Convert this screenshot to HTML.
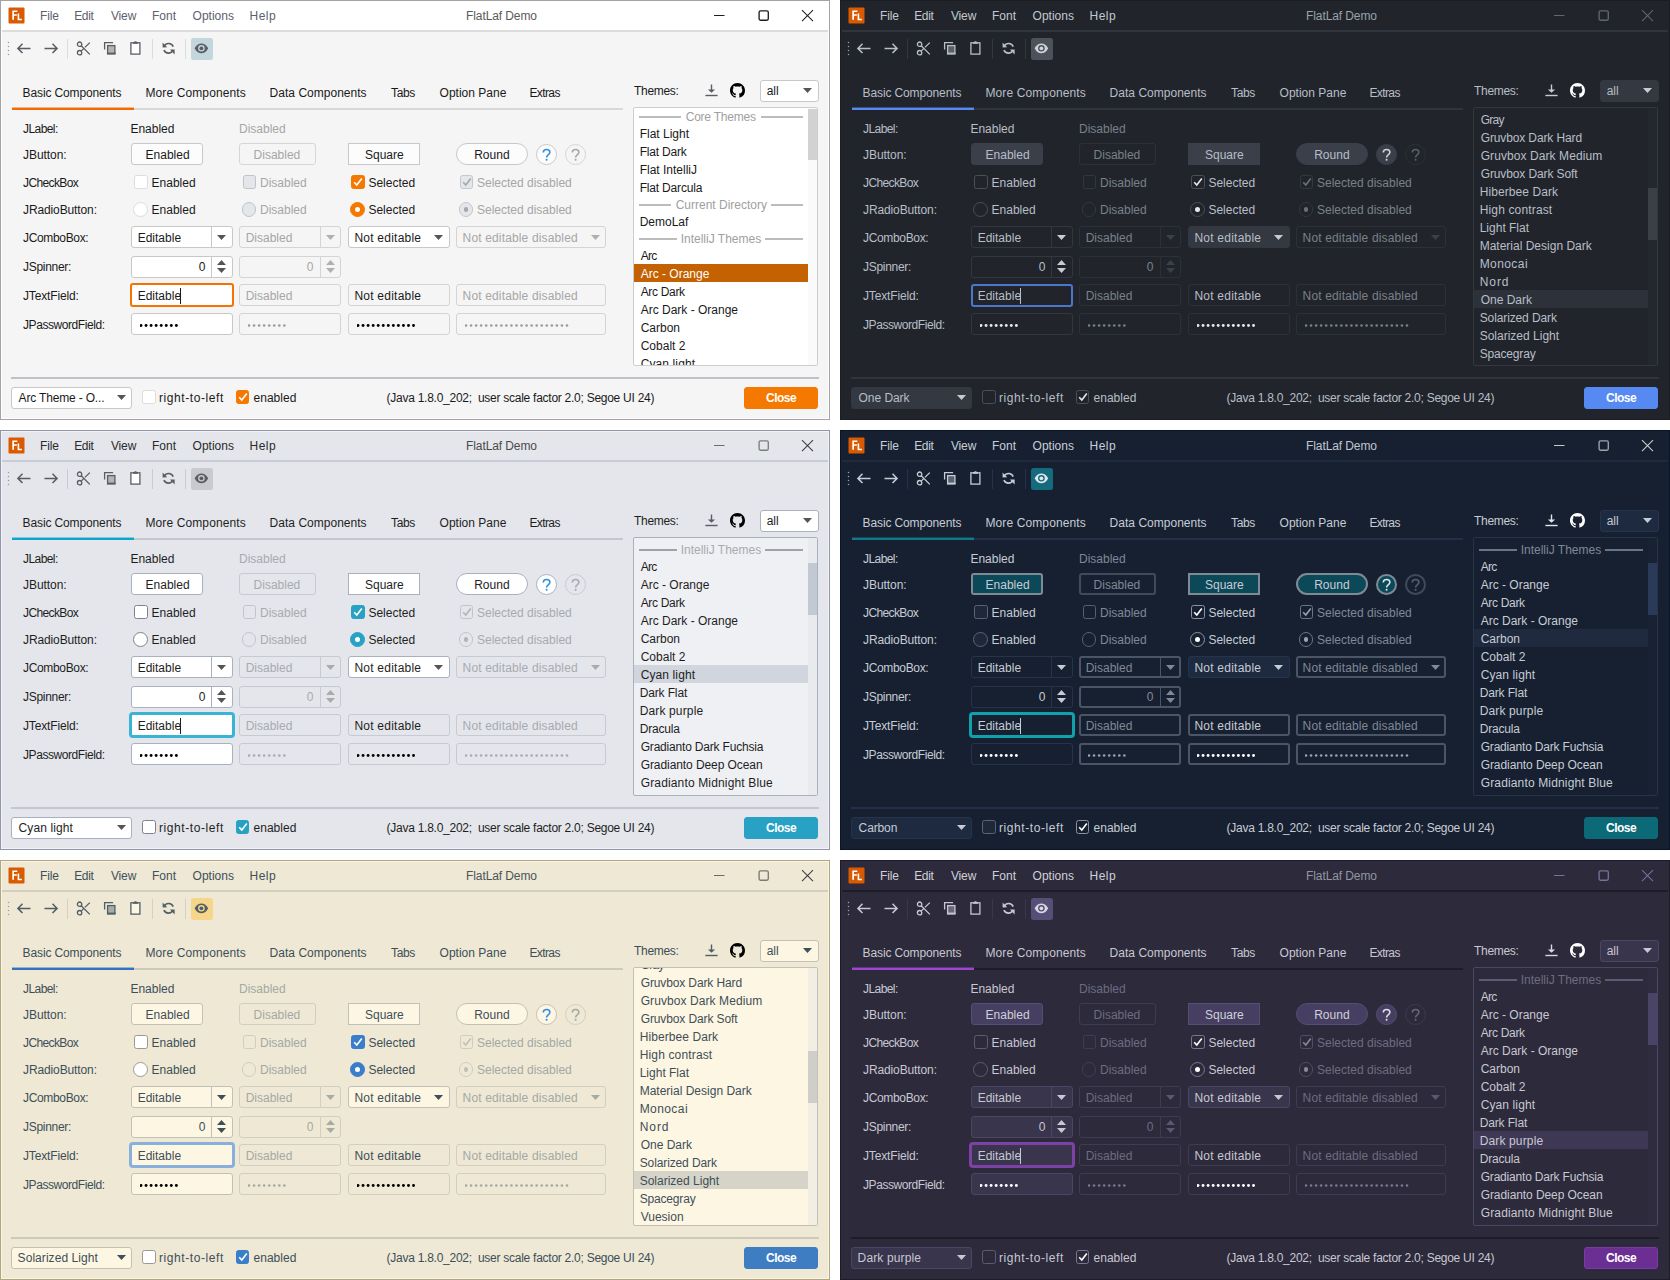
<!DOCTYPE html><html><head><meta charset="utf-8"><style>*{margin:0;padding:0}
html,body{width:1670px;height:1280px;overflow:hidden;background:#fff}
body{position:relative;font-family:"Liberation Sans", sans-serif;font-size:12px;line-height:14px}
.win{position:absolute;width:830px;height:420px;overflow:hidden}
.win div,.win svg{position:absolute}
.t{white-space:pre}
</style></head><body><div class="win" style="left:0px;top:0px;background:#f5f5f5"><div style="left:0px;top:0px;width:830px;height:30px;background:#ffffff;"></div><div style="left:0px;top:30px;width:830px;height:2px;background:#dcdcdc;"></div><svg style="left:8px;top:7px" width="17" height="17" viewBox="0 0 17 17"><rect x="0.5" y="0.5" width="16" height="16" rx="1" fill="#d95a00"/><path d="M4.3 3.4h5v1.6h-3.3v2.3h2.8v1.5h-2.8v3.9h-1.7z" fill="#fff"/><path d="M9.6 6.6h1.6v5.2h2.7v1.5h-4.3z" fill="#fff"/></svg><div class="t" style="left:40.00px;top:9.00px;color:#5c616c;letter-spacing:-0.167px;">File</div><div class="t" style="left:74.20px;top:9.00px;color:#5c616c;letter-spacing:-0.333px;">Edit</div><div class="t" style="left:111.00px;top:9.00px;color:#5c616c;letter-spacing:-0.167px;">View</div><div class="t" style="left:152.00px;top:9.00px;color:#5c616c;">Font</div><div class="t" style="left:192.60px;top:9.00px;color:#5c616c;">Options</div><div class="t" style="left:249.60px;top:9.00px;color:#5c616c;letter-spacing:0.433px;">Help</div><div class="t" style="left:466.00px;top:9.00px;color:#5a5a5a;letter-spacing:-0.091px;">FlatLaf Demo</div><svg style="left:712px;top:8px" width="16" height="16" viewBox="0 0 16 16"><path d="M2 7.5h10.5" stroke="#1e1e1e" stroke-width="1"/></svg><svg style="left:757px;top:9px" width="13" height="13" viewBox="0 0 13 13"><rect x="2.1" y="1.9" width="9.2" height="9.3" rx="1.4" fill="none" stroke="#1e1e1e" stroke-width="1.35"/></svg><svg style="left:801px;top:9px" width="14" height="14" viewBox="0 0 14 14"><path d="M1 1.2L12 12.2M12 1.2L1 12.2" stroke="#1e1e1e" stroke-width="1.05"/></svg><svg style="left:7px;top:41px" width="3" height="16" viewBox="0 0 3 16"><circle cx="1.5" cy="1.5" r="0.75" fill="#9c9c9c"/><circle cx="1.5" cy="5.5" r="0.75" fill="#9c9c9c"/><circle cx="1.5" cy="9.5" r="0.75" fill="#9c9c9c"/><circle cx="1.5" cy="13.5" r="0.75" fill="#9c9c9c"/></svg><svg style="left:16px;top:42px" width="16" height="13" viewBox="0 0 16 13"><path d="M2 6.4h12.5M6.5 1.8L1.9 6.4L6.5 11" fill="none" stroke="#5a5d63" stroke-width="1.5"/></svg><svg style="left:42.5px;top:42px" width="16" height="13" viewBox="0 0 16 13"><path d="M1.5 6.4h12.5M9.5 1.8L14.1 6.4L9.5 11" fill="none" stroke="#5a5d63" stroke-width="1.5"/></svg><div style="left:66.5px;top:39px;width:1px;height:20px;background:#dcdcdc;"></div><div style="left:151.5px;top:39px;width:1px;height:20px;background:#dcdcdc;"></div><div style="left:184.5px;top:39px;width:1px;height:20px;background:#dcdcdc;"></div><svg style="left:76px;top:41px" width="15" height="15" viewBox="0 0 15 15"><circle cx="3.6" cy="3.2" r="2.2" fill="none" stroke="#5a5d63" stroke-width="1.3"/><circle cx="3.6" cy="11.7" r="2.2" fill="none" stroke="#5a5d63" stroke-width="1.3"/><path d="M5.2 4.8L13.8 13.4M5.2 10.1L7.4 7.9M8.9 6.4L13.8 1.6" fill="none" stroke="#5a5d63" stroke-width="1.3"/></svg><svg style="left:102px;top:40px" width="16" height="16" viewBox="0 0 16 16"><path d="M2.6 9.5V2.6h8.5" fill="none" stroke="#5a5d63" stroke-width="1.3"/><rect x="5.6" y="5.6" width="7.3" height="8.4" fill="#b4b4b4" stroke="#5a5d63" stroke-width="1.3"/><path d="M5 13.3h8.6" stroke="#5a5d63" stroke-width="1.4"/></svg><svg style="left:129px;top:40px" width="13" height="16" viewBox="0 0 13 16"><rect x="1.9" y="2.8" width="9" height="11.3" fill="#ffffff" stroke="#5a5d63" stroke-width="1.3"/><path d="M4 2.2h5v1.6h-5z M5.5 1.3h2v1h-2z" fill="#5a5d63"/></svg><svg style="left:161px;top:41px" width="15" height="15" viewBox="0 0 15 15"><path d="M3.2 5.2A5 5 0 0 1 12.2 5.6" fill="none" stroke="#5a5d63" stroke-width="1.6"/><path d="M11.9 9.4A5 5 0 0 1 2.9 9.2" fill="none" stroke="#5a5d63" stroke-width="1.6"/><path d="M1.6 1.6L1.6 6.4L6.2 6.2Z" fill="#5a5d63"/><path d="M13.6 13.4L13.6 8.4L9 8.6Z" fill="#5a5d63"/></svg><div style="left:190.5px;top:37.5px;width:22px;height:22px;background:#c3d6db;border-radius:2.5px;"></div><svg style="left:194px;top:42px" width="15" height="13" viewBox="0 0 15 13"><path d="M0.6 6.3C2.6 2.5 5 1.4 7.4 1.4S12.2 2.5 14.2 6.3C12.2 10.1 9.8 11.3 7.4 11.3S2.6 10.1 0.6 6.3Z" fill="#5a5d63"/><circle cx="7.4" cy="6.3" r="3.3" fill="#c3d6db"/><circle cx="7.4" cy="6.3" r="1.9" fill="#5a5d63"/></svg><div class="t" style="left:22.60px;top:86.40px;color:#1a1a1a;letter-spacing:-0.127px;">Basic Components</div><div class="t" style="left:145.40px;top:86.40px;color:#1a1a1a;letter-spacing:0.121px;">More Components</div><div class="t" style="left:269.60px;top:86.40px;color:#1a1a1a;letter-spacing:0.021px;">Data Components</div><div class="t" style="left:391.00px;top:86.40px;color:#1a1a1a;letter-spacing:-0.367px;">Tabs</div><div class="t" style="left:439.60px;top:86.40px;color:#1a1a1a;">Option Pane</div><div class="t" style="left:529.40px;top:86.40px;color:#1a1a1a;letter-spacing:-0.600px;">Extras</div><div style="left:12px;top:108px;width:611px;height:2px;background:#d8d8d8;"></div><div style="left:12px;top:107px;width:122px;height:1px;background:#f46a00;opacity:0.45;"></div><div style="left:12px;top:108px;width:122px;height:2px;background:#f46a00;"></div><div class="t" style="left:23.00px;top:122.00px;color:#1a1a1a;letter-spacing:-0.567px;">JLabel:</div><div class="t" style="left:23.00px;top:148.20px;color:#1a1a1a;letter-spacing:-0.057px;">JButton:</div><div class="t" style="left:23.00px;top:176.00px;color:#1a1a1a;letter-spacing:-0.625px;">JCheckBox</div><div class="t" style="left:23.00px;top:203.00px;color:#1a1a1a;letter-spacing:-0.117px;">JRadioButton:</div><div class="t" style="left:23.00px;top:231.00px;color:#1a1a1a;letter-spacing:-0.333px;">JComboBox:</div><div class="t" style="left:23.00px;top:259.80px;color:#1a1a1a;letter-spacing:-0.300px;">JSpinner:</div><div class="t" style="left:23.00px;top:288.80px;color:#1a1a1a;letter-spacing:-0.140px;">JTextField:</div><div class="t" style="left:23.00px;top:317.80px;color:#1a1a1a;letter-spacing:-0.429px;">JPasswordField:</div><div class="t" style="left:130.40px;top:122.00px;color:#1a1a1a;">Enabled</div><div class="t" style="left:239.00px;top:122.00px;color:#a6a6a6;">Disabled</div><div style="left:131px;top:143px;width:72px;height:22px;background:#fcfcfc;border:1px solid #c9c9c9;box-sizing:border-box;border-radius:3px;"></div><div class="t" style="left:145.60px;top:148.20px;color:#1a1a1a;">Enabled</div><div style="left:239px;top:143px;width:77px;height:22px;background:#f5f5f5;border:1px solid #d6d6d6;box-sizing:border-box;border-radius:3px;"></div><div class="t" style="left:253.60px;top:148.20px;color:#a6a6a6;">Disabled</div><div style="left:348px;top:143px;width:72px;height:22px;background:#fcfcfc;border:1px solid #c9c9c9;box-sizing:border-box;"></div><div class="t" style="left:365.00px;top:148.20px;color:#1a1a1a;">Square</div><div style="left:456px;top:143px;width:72px;height:22px;background:#fcfcfc;border:1px solid #c9c9c9;box-sizing:border-box;border-radius:11px;"></div><div class="t" style="left:474.20px;top:148.20px;color:#1a1a1a;">Round</div><div style="left:536px;top:144px;width:21px;height:21px;background:#fcfcfc;border:1px solid #c9c9c9;box-sizing:border-box;border-radius:11px;"></div><svg style="left:536px;top:144px" width="21" height="21" viewBox="0 0 21 21"><path d="M7.3 8.4C7.3 6.5 8.7 5.5 10.6 5.5C12.5 5.5 13.9 6.6 13.9 8.3C13.9 9.9 12.7 10.6 11.7 11.3C10.9 11.9 10.6 12.4 10.6 13.6" fill="none" stroke="#2d8ee0" stroke-width="1.55"/><circle cx="10.6" cy="15.8" r="1.05" fill="#2d8ee0"/></svg><div style="left:565px;top:144px;width:21px;height:21px;background:#f5f5f5;border:1px solid #d6d6d6;box-sizing:border-box;border-radius:11px;"></div><svg style="left:565px;top:144px" width="21" height="21" viewBox="0 0 21 21"><path d="M7.3 8.4C7.3 6.5 8.7 5.5 10.6 5.5C12.5 5.5 13.9 6.6 13.9 8.3C13.9 9.9 12.7 10.6 11.7 11.3C10.9 11.9 10.6 12.4 10.6 13.6" fill="none" stroke="#a6a6a6" stroke-width="1.55"/><circle cx="10.6" cy="15.8" r="1.05" fill="#a6a6a6"/></svg><div style="left:134.2px;top:175px;width:13.5px;height:13.5px;background:#ffffff;border:1px solid #dcdcdc;box-sizing:border-box;border-radius:2.5px;"></div><div class="t" style="left:151.60px;top:176.00px;color:#1a1a1a;">Enabled</div><div style="left:242.6px;top:175px;width:13.5px;height:13.5px;background:#e3e6ea;border:1px solid #bfc3c8;box-sizing:border-box;border-radius:2.5px;"></div><div class="t" style="left:260.00px;top:176.00px;color:#a6a6a6;">Disabled</div><div style="left:351px;top:175px;width:13.5px;height:13.5px;background:#f57900;border:1px solid #f57900;box-sizing:border-box;border-radius:2.5px;"></div><svg style="left:351px;top:175px" width="14" height="14" viewBox="0 0 14 14"><path d="M3.2 7.2L5.8 10L10.8 3.4" fill="none" stroke="#ffffff" stroke-width="1.6"/></svg><div class="t" style="left:368.40px;top:176.00px;color:#1a1a1a;">Selected</div><div style="left:459.6px;top:175px;width:13.5px;height:13.5px;background:#e3e6ea;border:1px solid #c4c8cc;box-sizing:border-box;border-radius:2.5px;"></div><svg style="left:459.6px;top:175px" width="14" height="14" viewBox="0 0 14 14"><path d="M3.2 7.2L5.8 10L10.8 3.4" fill="none" stroke="#a6a6a6" stroke-width="1.6"/></svg><div class="t" style="left:477.00px;top:176.00px;color:#a6a6a6;">Selected disabled</div><div style="left:133.2px;top:202px;width:14.5px;height:14.5px;background:#ffffff;border:1px solid #dcdcdc;box-sizing:border-box;border-radius:8px;"></div><div class="t" style="left:151.60px;top:203.00px;color:#1a1a1a;">Enabled</div><div style="left:241.6px;top:202px;width:14.5px;height:14.5px;background:#e3e6ea;border:1px solid #bfc3c8;box-sizing:border-box;border-radius:8px;"></div><div class="t" style="left:260.00px;top:203.00px;color:#a6a6a6;">Disabled</div><div style="left:350.2px;top:202px;width:14.5px;height:14.5px;background:#f57900;border:1px solid #f57900;box-sizing:border-box;border-radius:8px;"></div><div style="left:355.2px;top:207px;width:4.5px;height:4.5px;background:#ffffff;border-radius:3px;"></div><div class="t" style="left:368.40px;top:203.00px;color:#1a1a1a;">Selected</div><div style="left:458.6px;top:202px;width:14.5px;height:14.5px;background:#e3e6ea;border:1px solid #c4c8cc;box-sizing:border-box;border-radius:8px;"></div><div style="left:463.6px;top:207px;width:4.5px;height:4.5px;background:#a6a6a6;border-radius:3px;"></div><div class="t" style="left:477.00px;top:203.00px;color:#a6a6a6;">Selected disabled</div><div style="left:131px;top:226px;width:102px;height:22px;background:#ffffff;border:1px solid #c8c8c8;box-sizing:border-box;border-radius:3px;"></div><div style="left:211px;top:226px;width:1px;height:22px;background:#c8c8c8;"></div><svg style="left:217.4px;top:235.1px" width="9" height="5" viewBox="0 0 9 5"><path d="M0 0L9 0L4.5 5Z" fill="#555555"/></svg><div class="t" style="left:137.70px;top:230.80px;color:#1a1a1a;">Editable</div><div style="left:239px;top:226px;width:102px;height:22px;background:#f5f5f5;border:1px solid #d4d4d4;box-sizing:border-box;border-radius:3px;"></div><div style="left:320px;top:226px;width:1px;height:22px;background:#d4d4d4;"></div><svg style="left:325.8px;top:235.1px" width="9" height="5" viewBox="0 0 9 5"><path d="M0 0L9 0L4.5 5Z" fill="#b0b0b0"/></svg><div class="t" style="left:245.70px;top:230.80px;color:#a6a6a6;">Disabled</div><div style="left:348px;top:226px;width:102px;height:22px;background:#ffffff;border:1px solid #c8c8c8;box-sizing:border-box;border-radius:3px;"></div><svg style="left:434.2px;top:235.1px" width="9" height="5" viewBox="0 0 9 5"><path d="M0 0L9 0L4.5 5Z" fill="#555555"/></svg><div class="t" style="left:354.40px;top:230.80px;color:#1a1a1a;letter-spacing:0.236px;">Not editable</div><div style="left:456px;top:226px;width:150px;height:22px;background:#f5f5f5;border:1px solid #d4d4d4;box-sizing:border-box;border-radius:3px;"></div><svg style="left:591px;top:235.1px" width="9" height="5" viewBox="0 0 9 5"><path d="M0 0L9 0L4.5 5Z" fill="#b0b0b0"/></svg><div class="t" style="left:462.60px;top:230.80px;color:#a6a6a6;letter-spacing:0.150px;">Not editable disabled</div><div style="left:131px;top:256px;width:102px;height:22px;background:#ffffff;border:1px solid #c8c8c8;box-sizing:border-box;border-radius:3px;"></div><div style="left:211px;top:256px;width:1px;height:22px;background:#c8c8c8;"></div><svg style="left:217.4px;top:260.2px" width="9" height="5" viewBox="0 0 9 5"><path d="M0 5L4.5 0L9 5Z" fill="#555555"/></svg><svg style="left:217.4px;top:268.1px" width="9" height="5" viewBox="0 0 9 5"><path d="M0 0L9 0L4.5 5Z" fill="#555555"/></svg><div class="t" style="left:198.80px;top:260.00px;color:#1a1a1a;">0</div><div style="left:239px;top:256px;width:102px;height:22px;background:#f5f5f5;border:1px solid #d4d4d4;box-sizing:border-box;border-radius:3px;"></div><div style="left:320px;top:256px;width:1px;height:22px;background:#d4d4d4;"></div><svg style="left:325.8px;top:260.2px" width="9" height="5" viewBox="0 0 9 5"><path d="M0 5L4.5 0L9 5Z" fill="#b0b0b0"/></svg><svg style="left:325.8px;top:268.1px" width="9" height="5" viewBox="0 0 9 5"><path d="M0 0L9 0L4.5 5Z" fill="#b0b0b0"/></svg><div class="t" style="left:306.80px;top:260.00px;color:#a6a6a6;">0</div><div style="left:130px;top:283px;width:104px;height:24px;background:#ffffff;border-radius:3px;border:2px solid #f57300;box-sizing:border-box;"></div><div class="t" style="left:137.70px;top:288.80px;color:#1a1a1a;">Editable</div><div style="left:180px;top:287.5px;width:1px;height:16px;background:#1a1a1a;"></div><div style="left:239px;top:284px;width:102px;height:22px;background:#f5f5f5;border:1px solid #d4d4d4;box-sizing:border-box;border-radius:3px;"></div><div class="t" style="left:245.70px;top:288.80px;color:#a6a6a6;">Disabled</div><div style="left:348px;top:284px;width:102px;height:22px;background:#f5f5f5;border:1px solid #d4d4d4;box-sizing:border-box;border-radius:3px;"></div><div class="t" style="left:354.40px;top:288.80px;color:#1a1a1a;letter-spacing:0.236px;">Not editable</div><div style="left:456px;top:284px;width:150px;height:22px;background:#f5f5f5;border:1px solid #d4d4d4;box-sizing:border-box;border-radius:3px;"></div><div class="t" style="left:462.60px;top:288.80px;color:#a6a6a6;letter-spacing:0.150px;">Not editable disabled</div><div style="left:131px;top:313px;width:102px;height:22px;background:#ffffff;border:1px solid #c8c8c8;box-sizing:border-box;border-radius:3px;"></div><svg style="left:139.5px;top:322.5px" width="42.8" height="5" viewBox="0 0 42.8 5"><circle cx="1.00" cy="2.5" r="1.45" fill="#000000"/><circle cx="6.05" cy="2.5" r="1.45" fill="#000000"/><circle cx="11.10" cy="2.5" r="1.45" fill="#000000"/><circle cx="16.15" cy="2.5" r="1.45" fill="#000000"/><circle cx="21.20" cy="2.5" r="1.45" fill="#000000"/><circle cx="26.25" cy="2.5" r="1.45" fill="#000000"/><circle cx="31.30" cy="2.5" r="1.45" fill="#000000"/><circle cx="36.35" cy="2.5" r="1.45" fill="#000000"/></svg><div style="left:239px;top:313px;width:102px;height:22px;background:#f5f5f5;border:1px solid #d4d4d4;box-sizing:border-box;border-radius:3px;"></div><svg style="left:247.5px;top:322.5px" width="42.8" height="5" viewBox="0 0 42.8 5"><circle cx="1.00" cy="2.5" r="1.3" fill="#9a9a9a"/><circle cx="6.05" cy="2.5" r="1.3" fill="#9a9a9a"/><circle cx="11.10" cy="2.5" r="1.3" fill="#9a9a9a"/><circle cx="16.15" cy="2.5" r="1.3" fill="#9a9a9a"/><circle cx="21.20" cy="2.5" r="1.3" fill="#9a9a9a"/><circle cx="26.25" cy="2.5" r="1.3" fill="#9a9a9a"/><circle cx="31.30" cy="2.5" r="1.3" fill="#9a9a9a"/><circle cx="36.35" cy="2.5" r="1.3" fill="#9a9a9a"/></svg><div style="left:348px;top:313px;width:102px;height:22px;background:#f5f5f5;border:1px solid #d4d4d4;box-sizing:border-box;border-radius:3px;"></div><svg style="left:356.5px;top:322.5px" width="63.199999999999996" height="5" viewBox="0 0 63.199999999999996 5"><circle cx="1.00" cy="2.5" r="1.45" fill="#000000"/><circle cx="6.05" cy="2.5" r="1.45" fill="#000000"/><circle cx="11.10" cy="2.5" r="1.45" fill="#000000"/><circle cx="16.15" cy="2.5" r="1.45" fill="#000000"/><circle cx="21.20" cy="2.5" r="1.45" fill="#000000"/><circle cx="26.25" cy="2.5" r="1.45" fill="#000000"/><circle cx="31.30" cy="2.5" r="1.45" fill="#000000"/><circle cx="36.35" cy="2.5" r="1.45" fill="#000000"/><circle cx="41.40" cy="2.5" r="1.45" fill="#000000"/><circle cx="46.45" cy="2.5" r="1.45" fill="#000000"/><circle cx="51.50" cy="2.5" r="1.45" fill="#000000"/><circle cx="56.55" cy="2.5" r="1.45" fill="#000000"/></svg><div style="left:456px;top:313px;width:150px;height:22px;background:#f5f5f5;border:1px solid #d4d4d4;box-sizing:border-box;border-radius:3px;"></div><svg style="left:464.6px;top:322.5px" width="109.1" height="5" viewBox="0 0 109.1 5"><circle cx="1.00" cy="2.5" r="1.3" fill="#9a9a9a"/><circle cx="6.05" cy="2.5" r="1.3" fill="#9a9a9a"/><circle cx="11.10" cy="2.5" r="1.3" fill="#9a9a9a"/><circle cx="16.15" cy="2.5" r="1.3" fill="#9a9a9a"/><circle cx="21.20" cy="2.5" r="1.3" fill="#9a9a9a"/><circle cx="26.25" cy="2.5" r="1.3" fill="#9a9a9a"/><circle cx="31.30" cy="2.5" r="1.3" fill="#9a9a9a"/><circle cx="36.35" cy="2.5" r="1.3" fill="#9a9a9a"/><circle cx="41.40" cy="2.5" r="1.3" fill="#9a9a9a"/><circle cx="46.45" cy="2.5" r="1.3" fill="#9a9a9a"/><circle cx="51.50" cy="2.5" r="1.3" fill="#9a9a9a"/><circle cx="56.55" cy="2.5" r="1.3" fill="#9a9a9a"/><circle cx="61.60" cy="2.5" r="1.3" fill="#9a9a9a"/><circle cx="66.65" cy="2.5" r="1.3" fill="#9a9a9a"/><circle cx="71.70" cy="2.5" r="1.3" fill="#9a9a9a"/><circle cx="76.75" cy="2.5" r="1.3" fill="#9a9a9a"/><circle cx="81.80" cy="2.5" r="1.3" fill="#9a9a9a"/><circle cx="86.85" cy="2.5" r="1.3" fill="#9a9a9a"/><circle cx="91.90" cy="2.5" r="1.3" fill="#9a9a9a"/><circle cx="96.95" cy="2.5" r="1.3" fill="#9a9a9a"/><circle cx="102.00" cy="2.5" r="1.3" fill="#9a9a9a"/></svg><div class="t" style="left:634.00px;top:84.00px;color:#1a1a1a;letter-spacing:-0.300px;">Themes:</div><svg style="left:704px;top:83px" width="15" height="15" viewBox="0 0 15 15"><path d="M7.5 1.5V8.5" stroke="#5a5d63" stroke-width="1.4"/><path d="M3.9 6.4H11.1L7.5 9.8Z" fill="#5a5d63"/><path d="M1.4 12.5H13.6" stroke="#5a5d63" stroke-width="1.4"/></svg><svg style="left:730px;top:83px" width="15" height="15" viewBox="0 0 15 15"><path fill="#000000" transform="scale(0.9375)" d="M8 0C3.58 0 0 3.58 0 8c0 3.54 2.29 6.53 5.47 7.59.4.07.55-.17.55-.38 0-.19-.01-.82-.01-1.49-2.01.37-2.53-.49-2.69-.94-.09-.23-.48-.94-.82-1.13-.28-.15-.68-.52-.01-.53.63-.01 1.08.58 1.23.82.72 1.21 1.87.87 2.33.66.07-.52.28-.87.51-1.07-1.78-.2-3.64-.89-3.64-3.95 0-.87.31-1.59.82-2.15-.08-.2-.36-1.02.08-2.12 0 0 .67-.21 2.2.82.64-.18 1.32-.27 2-.27.68 0 1.36.09 2 .27 1.53-1.04 2.2-.82 2.2-.82.44 1.1.16 1.92.08 2.12.51.56.82 1.27.82 2.15 0 3.07-1.87 3.75-3.65 3.95.29.25.54.73.54 1.48 0 1.07-.01 1.93-.01 2.2 0 .21.15.46.55.38A8.013 8.013 0 0016 8c0-4.42-3.58-8-8-8z"/></svg><div style="left:759.5px;top:79.5px;width:59px;height:22px;background:#ffffff;border:1px solid #c8c8c8;box-sizing:border-box;border-radius:3px;"></div><div class="t" style="left:766.70px;top:84.00px;color:#1a1a1a;">all</div><svg style="left:803.2px;top:87.7px" width="9" height="5" viewBox="0 0 9 5"><path d="M0 0L9 0L4.5 5Z" fill="#555555"/></svg><div style="left:633px;top:107px;width:185px;height:259px;background:#ffffff;border:1px solid #cdcdcd;box-sizing:border-box;border-radius:2px;"></div><div style="left:634px;top:108px;width:183px;height:257px;overflow:hidden"><div style="left:5px;top:8px;width:42.200000000000045px;height:2px;background:#bcbcbc"></div><div style="left:126.70000000000005px;top:8px;width:42.299999999999955px;height:2px;background:#bcbcbc"></div><div class="t" style="left:51.70px;top:2.00px;color:#a0a0a0;letter-spacing:-0.220px;">Core Themes</div><div class="t" style="left:5.70px;top:19.00px;color:#1a1a1a;">Flat Light</div><div class="t" style="left:5.70px;top:37.00px;color:#1a1a1a;letter-spacing:-0.188px;">Flat Dark</div><div class="t" style="left:5.70px;top:55.00px;color:#1a1a1a;">Flat IntelliJ</div><div class="t" style="left:5.70px;top:73.00px;color:#1a1a1a;letter-spacing:-0.182px;">Flat Darcula</div><div style="left:5px;top:96px;width:32.200000000000045px;height:2px;background:#bcbcbc"></div><div style="left:136.70000000000005px;top:96px;width:32.299999999999955px;height:2px;background:#bcbcbc"></div><div class="t" style="left:41.70px;top:90.00px;color:#a0a0a0;">Current Directory</div><div class="t" style="left:5.70px;top:107.00px;color:#1a1a1a;">DemoLaf</div><div style="left:5px;top:130px;width:38.200000000000045px;height:2px;background:#bcbcbc"></div><div style="left:130.70000000000005px;top:130px;width:38.299999999999955px;height:2px;background:#bcbcbc"></div><div class="t" style="left:46.70px;top:124.00px;color:#a0a0a0;">IntelliJ Themes</div><div class="t" style="left:6.70px;top:141.00px;color:#1a1a1a;letter-spacing:-0.750px;">Arc</div><div style="left:0px;top:156px;width:173.5px;height:18px;background:#c46100"></div><div class="t" style="left:6.70px;top:159.00px;color:#ffffff;">Arc - Orange</div><div class="t" style="left:6.70px;top:177.00px;color:#1a1a1a;letter-spacing:-0.329px;">Arc Dark</div><div class="t" style="left:6.70px;top:195.00px;color:#1a1a1a;">Arc Dark - Orange</div><div class="t" style="left:6.70px;top:213.00px;color:#1a1a1a;">Carbon</div><div class="t" style="left:6.70px;top:231.00px;color:#1a1a1a;">Cobalt 2</div><div class="t" style="left:6.70px;top:249.00px;color:#1a1a1a;letter-spacing:0.111px;">Cyan light</div><div style="left:173.5px;top:0px;width:9.5px;height:257px;background:#fafafa"></div><div style="left:173.5px;top:0.7000000000000028px;width:9.5px;height:51.3px;background:#d2d2d2"></div></div><div style="left:11px;top:376px;width:808px;height:1px;background:#f5f5f5;"></div><div style="left:11px;top:377px;width:808px;height:2px;background:#bcc2c8;"></div><div style="left:11px;top:387px;width:121px;height:22px;background:#ffffff;border:1px solid #c8c8c8;box-sizing:border-box;border-radius:3px;"></div><div class="t" style="left:18.60px;top:391.40px;color:#1a1a1a;letter-spacing:-0.173px;">Arc Theme - O...</div><svg style="left:117px;top:395.1px" width="9" height="5" viewBox="0 0 9 5"><path d="M0 0L9 0L4.5 5Z" fill="#555555"/></svg><div style="left:142.4px;top:390px;width:13.5px;height:13.5px;background:#ffffff;border:1px solid #dcdcdc;box-sizing:border-box;border-radius:2.5px;"></div><div class="t" style="left:159.00px;top:391.40px;color:#1a1a1a;letter-spacing:0.583px;">right-to-left</div><div style="left:235.6px;top:390px;width:13.5px;height:13.5px;background:#f57900;border:1px solid #f57900;box-sizing:border-box;border-radius:2.5px;"></div><svg style="left:235.6px;top:390px" width="14" height="14" viewBox="0 0 14 14"><path d="M3.2 7.2L5.8 10L10.8 3.4" fill="none" stroke="#ffffff" stroke-width="1.6"/></svg><div class="t" style="left:253.60px;top:391.40px;color:#1a1a1a;">enabled</div><div class="t" style="left:386.60px;top:391.40px;color:#1a1a1a;letter-spacing:-0.262px;">(Java 1.8.0_202;  user scale factor 2.0; Segoe UI 24)</div><div style="left:743.8px;top:386.7px;width:74.5px;height:22px;background:#f57900;border-radius:3px;border:1px solid #f57900;box-sizing:border-box;"></div><div class="t" style="left:766.00px;top:391.40px;color:#ffffff;letter-spacing:-0.500px;font-weight:bold;">Close</div><div style="left:1px;top:1px;width:828px;height:418px;border:1px solid #ffffff;box-sizing:border-box;"></div><div style="left:0px;top:0px;width:830px;height:420px;border:1px solid #a3a3a3;box-sizing:border-box;"></div></div><div class="win" style="left:840px;top:0px;background:#21252b"><div style="left:0px;top:0px;width:830px;height:30px;background:#21252b;"></div><div style="left:0px;top:30px;width:830px;height:2px;background:#30353d;"></div><svg style="left:8px;top:7px" width="17" height="17" viewBox="0 0 17 17"><rect x="0.5" y="0.5" width="16" height="16" rx="1" fill="#d95a00"/><path d="M4.3 3.4h5v1.6h-3.3v2.3h2.8v1.5h-2.8v3.9h-1.7z" fill="#fff"/><path d="M9.6 6.6h1.6v5.2h2.7v1.5h-4.3z" fill="#fff"/></svg><div class="t" style="left:40.00px;top:9.00px;color:#c3c8d0;letter-spacing:-0.167px;">File</div><div class="t" style="left:74.20px;top:9.00px;color:#c3c8d0;letter-spacing:-0.333px;">Edit</div><div class="t" style="left:111.00px;top:9.00px;color:#c3c8d0;letter-spacing:-0.167px;">View</div><div class="t" style="left:152.00px;top:9.00px;color:#c3c8d0;">Font</div><div class="t" style="left:192.60px;top:9.00px;color:#c3c8d0;">Options</div><div class="t" style="left:249.60px;top:9.00px;color:#c3c8d0;letter-spacing:0.433px;">Help</div><div class="t" style="left:466.00px;top:9.00px;color:#9ca1aa;letter-spacing:-0.091px;">FlatLaf Demo</div><svg style="left:712px;top:8px" width="16" height="16" viewBox="0 0 16 16"><path d="M2 7.5h10.5" stroke="#62666f" stroke-width="1"/></svg><svg style="left:757px;top:9px" width="13" height="13" viewBox="0 0 13 13"><rect x="2.1" y="1.9" width="9.2" height="9.3" rx="1.4" fill="none" stroke="#62666f" stroke-width="1.35"/></svg><svg style="left:801px;top:9px" width="14" height="14" viewBox="0 0 14 14"><path d="M1 1.2L12 12.2M12 1.2L1 12.2" stroke="#62666f" stroke-width="1.05"/></svg><svg style="left:7px;top:41px" width="3" height="16" viewBox="0 0 3 16"><circle cx="1.5" cy="1.5" r="0.75" fill="#9aa0aa"/><circle cx="1.5" cy="5.5" r="0.75" fill="#9aa0aa"/><circle cx="1.5" cy="9.5" r="0.75" fill="#9aa0aa"/><circle cx="1.5" cy="13.5" r="0.75" fill="#9aa0aa"/></svg><svg style="left:16px;top:42px" width="16" height="13" viewBox="0 0 16 13"><path d="M2 6.4h12.5M6.5 1.8L1.9 6.4L6.5 11" fill="none" stroke="#b8bec8" stroke-width="1.5"/></svg><svg style="left:42.5px;top:42px" width="16" height="13" viewBox="0 0 16 13"><path d="M1.5 6.4h12.5M9.5 1.8L14.1 6.4L9.5 11" fill="none" stroke="#b8bec8" stroke-width="1.5"/></svg><div style="left:66.5px;top:39px;width:1px;height:20px;background:#33383f;"></div><div style="left:151.5px;top:39px;width:1px;height:20px;background:#33383f;"></div><div style="left:184.5px;top:39px;width:1px;height:20px;background:#33383f;"></div><svg style="left:76px;top:41px" width="15" height="15" viewBox="0 0 15 15"><circle cx="3.6" cy="3.2" r="2.2" fill="none" stroke="#b8bec8" stroke-width="1.3"/><circle cx="3.6" cy="11.7" r="2.2" fill="none" stroke="#b8bec8" stroke-width="1.3"/><path d="M5.2 4.8L13.8 13.4M5.2 10.1L7.4 7.9M8.9 6.4L13.8 1.6" fill="none" stroke="#b8bec8" stroke-width="1.3"/></svg><svg style="left:102px;top:40px" width="16" height="16" viewBox="0 0 16 16"><path d="M2.6 9.5V2.6h8.5" fill="none" stroke="#b8bec8" stroke-width="1.3"/><rect x="5.6" y="5.6" width="7.3" height="8.4" fill="#5a5f68" stroke="#b8bec8" stroke-width="1.3"/><path d="M5 13.3h8.6" stroke="#b8bec8" stroke-width="1.4"/></svg><svg style="left:129px;top:40px" width="13" height="16" viewBox="0 0 13 16"><rect x="1.9" y="2.8" width="9" height="11.3" fill="#21252b" stroke="#b8bec8" stroke-width="1.3"/><path d="M4 2.2h5v1.6h-5z M5.5 1.3h2v1h-2z" fill="#b8bec8"/></svg><svg style="left:161px;top:41px" width="15" height="15" viewBox="0 0 15 15"><path d="M3.2 5.2A5 5 0 0 1 12.2 5.6" fill="none" stroke="#b8bec8" stroke-width="1.6"/><path d="M11.9 9.4A5 5 0 0 1 2.9 9.2" fill="none" stroke="#b8bec8" stroke-width="1.6"/><path d="M1.6 1.6L1.6 6.4L6.2 6.2Z" fill="#b8bec8"/><path d="M13.6 13.4L13.6 8.4L9 8.6Z" fill="#b8bec8"/></svg><div style="left:190.5px;top:37.5px;width:22px;height:22px;background:#4c525c;border-radius:2.5px;"></div><svg style="left:194px;top:42px" width="15" height="13" viewBox="0 0 15 13"><path d="M0.6 6.3C2.6 2.5 5 1.4 7.4 1.4S12.2 2.5 14.2 6.3C12.2 10.1 9.8 11.3 7.4 11.3S2.6 10.1 0.6 6.3Z" fill="#d0d3d8"/><circle cx="7.4" cy="6.3" r="3.3" fill="#4c525c"/><circle cx="7.4" cy="6.3" r="1.9" fill="#d0d3d8"/></svg><div class="t" style="left:22.60px;top:86.40px;color:#b8bec8;letter-spacing:-0.127px;">Basic Components</div><div class="t" style="left:145.40px;top:86.40px;color:#b8bec8;letter-spacing:0.121px;">More Components</div><div class="t" style="left:269.60px;top:86.40px;color:#b8bec8;letter-spacing:0.021px;">Data Components</div><div class="t" style="left:391.00px;top:86.40px;color:#b8bec8;letter-spacing:-0.367px;">Tabs</div><div class="t" style="left:439.60px;top:86.40px;color:#b8bec8;">Option Pane</div><div class="t" style="left:529.40px;top:86.40px;color:#b8bec8;letter-spacing:-0.600px;">Extras</div><div style="left:12px;top:108px;width:611px;height:2px;background:#30353d;"></div><div style="left:12px;top:107px;width:122px;height:1px;background:#568af2;opacity:0.45;"></div><div style="left:12px;top:108px;width:122px;height:2px;background:#568af2;"></div><div class="t" style="left:23.00px;top:122.00px;color:#b8bec8;letter-spacing:-0.567px;">JLabel:</div><div class="t" style="left:23.00px;top:148.20px;color:#b8bec8;letter-spacing:-0.057px;">JButton:</div><div class="t" style="left:23.00px;top:176.00px;color:#b8bec8;letter-spacing:-0.625px;">JCheckBox</div><div class="t" style="left:23.00px;top:203.00px;color:#b8bec8;letter-spacing:-0.117px;">JRadioButton:</div><div class="t" style="left:23.00px;top:231.00px;color:#b8bec8;letter-spacing:-0.333px;">JComboBox:</div><div class="t" style="left:23.00px;top:259.80px;color:#b8bec8;letter-spacing:-0.300px;">JSpinner:</div><div class="t" style="left:23.00px;top:288.80px;color:#b8bec8;letter-spacing:-0.140px;">JTextField:</div><div class="t" style="left:23.00px;top:317.80px;color:#b8bec8;letter-spacing:-0.429px;">JPasswordField:</div><div class="t" style="left:130.40px;top:122.00px;color:#b8bec8;">Enabled</div><div class="t" style="left:239.00px;top:122.00px;color:#7a808a;">Disabled</div><div style="left:131px;top:143px;width:72px;height:22px;background:#3a3f4a;border:1px solid #3a3f4a;box-sizing:border-box;border-radius:3px;"></div><div class="t" style="left:145.60px;top:148.20px;color:#b8bec8;">Enabled</div><div style="left:239px;top:143px;width:77px;height:22px;background:#21252b;border:1px solid #2c3038;box-sizing:border-box;border-radius:3px;"></div><div class="t" style="left:253.60px;top:148.20px;color:#7a808a;">Disabled</div><div style="left:348px;top:143px;width:72px;height:22px;background:#3a3f4a;border:1px solid #3a3f4a;box-sizing:border-box;"></div><div class="t" style="left:365.00px;top:148.20px;color:#b8bec8;">Square</div><div style="left:456px;top:143px;width:72px;height:22px;background:#3a3f4a;border:1px solid #3a3f4a;box-sizing:border-box;border-radius:11px;"></div><div class="t" style="left:474.20px;top:148.20px;color:#b8bec8;">Round</div><div style="left:536px;top:144px;width:21px;height:21px;background:#3a3f4a;border:1px solid #3a3f4a;box-sizing:border-box;border-radius:11px;"></div><svg style="left:536px;top:144px" width="21" height="21" viewBox="0 0 21 21"><path d="M7.3 8.4C7.3 6.5 8.7 5.5 10.6 5.5C12.5 5.5 13.9 6.6 13.9 8.3C13.9 9.9 12.7 10.6 11.7 11.3C10.9 11.9 10.6 12.4 10.6 13.6" fill="none" stroke="#d0d4da" stroke-width="1.55"/><circle cx="10.6" cy="15.8" r="1.05" fill="#d0d4da"/></svg><div style="left:565px;top:144px;width:21px;height:21px;background:#21252b;border:1px solid #2c3038;box-sizing:border-box;border-radius:11px;"></div><svg style="left:565px;top:144px" width="21" height="21" viewBox="0 0 21 21"><path d="M7.3 8.4C7.3 6.5 8.7 5.5 10.6 5.5C12.5 5.5 13.9 6.6 13.9 8.3C13.9 9.9 12.7 10.6 11.7 11.3C10.9 11.9 10.6 12.4 10.6 13.6" fill="none" stroke="#5a5f68" stroke-width="1.55"/><circle cx="10.6" cy="15.8" r="1.05" fill="#5a5f68"/></svg><div style="left:134.2px;top:175px;width:13.5px;height:13.5px;background:#21252b;border:1px solid #4a4f58;box-sizing:border-box;border-radius:2.5px;"></div><div class="t" style="left:151.60px;top:176.00px;color:#b8bec8;">Enabled</div><div style="left:242.6px;top:175px;width:13.5px;height:13.5px;background:#21252b;border:1px solid #33373e;box-sizing:border-box;border-radius:2.5px;"></div><div class="t" style="left:260.00px;top:176.00px;color:#7a808a;">Disabled</div><div style="left:351px;top:175px;width:13.5px;height:13.5px;background:#21252b;border:1px solid #4a4f58;box-sizing:border-box;border-radius:2.5px;"></div><svg style="left:351px;top:175px" width="14" height="14" viewBox="0 0 14 14"><path d="M3.2 7.2L5.8 10L10.8 3.4" fill="none" stroke="#e6e8ec" stroke-width="1.6"/></svg><div class="t" style="left:368.40px;top:176.00px;color:#b8bec8;">Selected</div><div style="left:459.6px;top:175px;width:13.5px;height:13.5px;background:#21252b;border:1px solid #33373e;box-sizing:border-box;border-radius:2.5px;"></div><svg style="left:459.6px;top:175px" width="14" height="14" viewBox="0 0 14 14"><path d="M3.2 7.2L5.8 10L10.8 3.4" fill="none" stroke="#6a6f78" stroke-width="1.6"/></svg><div class="t" style="left:477.00px;top:176.00px;color:#7a808a;">Selected disabled</div><div style="left:133.2px;top:202px;width:14.5px;height:14.5px;background:#21252b;border:1px solid #4a4f58;box-sizing:border-box;border-radius:8px;"></div><div class="t" style="left:151.60px;top:203.00px;color:#b8bec8;">Enabled</div><div style="left:241.6px;top:202px;width:14.5px;height:14.5px;background:#21252b;border:1px solid #33373e;box-sizing:border-box;border-radius:8px;"></div><div class="t" style="left:260.00px;top:203.00px;color:#7a808a;">Disabled</div><div style="left:350.2px;top:202px;width:14.5px;height:14.5px;background:#21252b;border:1px solid #4a4f58;box-sizing:border-box;border-radius:8px;"></div><div style="left:355.2px;top:207px;width:4.5px;height:4.5px;background:#e6e8ec;border-radius:3px;"></div><div class="t" style="left:368.40px;top:203.00px;color:#b8bec8;">Selected</div><div style="left:458.6px;top:202px;width:14.5px;height:14.5px;background:#21252b;border:1px solid #33373e;box-sizing:border-box;border-radius:8px;"></div><div style="left:463.6px;top:207px;width:4.5px;height:4.5px;background:#6a6f78;border-radius:3px;"></div><div class="t" style="left:477.00px;top:203.00px;color:#7a808a;">Selected disabled</div><div style="left:131px;top:226px;width:102px;height:22px;background:#21252b;border:1px solid #33373f;box-sizing:border-box;border-radius:3px;"></div><div style="left:211px;top:226px;width:1px;height:22px;background:#33373f;"></div><svg style="left:217.4px;top:235.1px" width="9" height="5" viewBox="0 0 9 5"><path d="M0 0L9 0L4.5 5Z" fill="#c8ccd2"/></svg><div class="t" style="left:137.70px;top:230.80px;color:#b8bec8;">Editable</div><div style="left:239px;top:226px;width:102px;height:22px;background:#21252b;border:1px solid #2c3038;box-sizing:border-box;border-radius:3px;"></div><div style="left:320px;top:226px;width:1px;height:22px;background:#2c3038;"></div><svg style="left:325.8px;top:235.1px" width="9" height="5" viewBox="0 0 9 5"><path d="M0 0L9 0L4.5 5Z" fill="#3c4048"/></svg><div class="t" style="left:245.70px;top:230.80px;color:#7a808a;">Disabled</div><div style="left:348px;top:226px;width:102px;height:22px;background:#333841;border:1px solid #33373f;box-sizing:border-box;border-radius:3px;"></div><svg style="left:434.2px;top:235.1px" width="9" height="5" viewBox="0 0 9 5"><path d="M0 0L9 0L4.5 5Z" fill="#c8ccd2"/></svg><div class="t" style="left:354.40px;top:230.80px;color:#b8bec8;letter-spacing:0.236px;">Not editable</div><div style="left:456px;top:226px;width:150px;height:22px;background:#21252b;border:1px solid #2c3038;box-sizing:border-box;border-radius:3px;"></div><svg style="left:591px;top:235.1px" width="9" height="5" viewBox="0 0 9 5"><path d="M0 0L9 0L4.5 5Z" fill="#3c4048"/></svg><div class="t" style="left:462.60px;top:230.80px;color:#7a808a;letter-spacing:0.150px;">Not editable disabled</div><div style="left:131px;top:256px;width:102px;height:22px;background:#21252b;border:1px solid #33373f;box-sizing:border-box;border-radius:3px;"></div><div style="left:211px;top:256px;width:1px;height:22px;background:#33373f;"></div><svg style="left:217.4px;top:260.2px" width="9" height="5" viewBox="0 0 9 5"><path d="M0 5L4.5 0L9 5Z" fill="#c8ccd2"/></svg><svg style="left:217.4px;top:268.1px" width="9" height="5" viewBox="0 0 9 5"><path d="M0 0L9 0L4.5 5Z" fill="#c8ccd2"/></svg><div class="t" style="left:198.80px;top:260.00px;color:#b8bec8;">0</div><div style="left:239px;top:256px;width:102px;height:22px;background:#21252b;border:1px solid #2c3038;box-sizing:border-box;border-radius:3px;"></div><div style="left:320px;top:256px;width:1px;height:22px;background:#2c3038;"></div><svg style="left:325.8px;top:260.2px" width="9" height="5" viewBox="0 0 9 5"><path d="M0 5L4.5 0L9 5Z" fill="#3c4048"/></svg><svg style="left:325.8px;top:268.1px" width="9" height="5" viewBox="0 0 9 5"><path d="M0 0L9 0L4.5 5Z" fill="#3c4048"/></svg><div class="t" style="left:306.80px;top:260.00px;color:#7a808a;">0</div><div style="left:131px;top:284px;width:102px;height:23px;background:#21252b;border-radius:3px;border:2px solid #4a76cc;box-sizing:border-box;"></div><div class="t" style="left:137.70px;top:288.80px;color:#b8bec8;">Editable</div><div style="left:180px;top:287.5px;width:1px;height:16px;background:#b8bec8;"></div><div style="left:239px;top:284px;width:102px;height:22px;background:#21252b;border:1px solid #2c3038;box-sizing:border-box;border-radius:3px;"></div><div class="t" style="left:245.70px;top:288.80px;color:#7a808a;">Disabled</div><div style="left:348px;top:284px;width:102px;height:22px;background:#21252b;border:1px solid #2c3038;box-sizing:border-box;border-radius:3px;"></div><div class="t" style="left:354.40px;top:288.80px;color:#b8bec8;letter-spacing:0.236px;">Not editable</div><div style="left:456px;top:284px;width:150px;height:22px;background:#21252b;border:1px solid #2c3038;box-sizing:border-box;border-radius:3px;"></div><div class="t" style="left:462.60px;top:288.80px;color:#7a808a;letter-spacing:0.150px;">Not editable disabled</div><div style="left:131px;top:313px;width:102px;height:22px;background:#21252b;border:1px solid #33373f;box-sizing:border-box;border-radius:3px;"></div><svg style="left:139.5px;top:322.5px" width="42.8" height="5" viewBox="0 0 42.8 5"><circle cx="1.00" cy="2.5" r="1.45" fill="#e6e8ec"/><circle cx="6.05" cy="2.5" r="1.45" fill="#e6e8ec"/><circle cx="11.10" cy="2.5" r="1.45" fill="#e6e8ec"/><circle cx="16.15" cy="2.5" r="1.45" fill="#e6e8ec"/><circle cx="21.20" cy="2.5" r="1.45" fill="#e6e8ec"/><circle cx="26.25" cy="2.5" r="1.45" fill="#e6e8ec"/><circle cx="31.30" cy="2.5" r="1.45" fill="#e6e8ec"/><circle cx="36.35" cy="2.5" r="1.45" fill="#e6e8ec"/></svg><div style="left:239px;top:313px;width:102px;height:22px;background:#21252b;border:1px solid #2c3038;box-sizing:border-box;border-radius:3px;"></div><svg style="left:247.5px;top:322.5px" width="42.8" height="5" viewBox="0 0 42.8 5"><circle cx="1.00" cy="2.5" r="1.3" fill="#7a808a"/><circle cx="6.05" cy="2.5" r="1.3" fill="#7a808a"/><circle cx="11.10" cy="2.5" r="1.3" fill="#7a808a"/><circle cx="16.15" cy="2.5" r="1.3" fill="#7a808a"/><circle cx="21.20" cy="2.5" r="1.3" fill="#7a808a"/><circle cx="26.25" cy="2.5" r="1.3" fill="#7a808a"/><circle cx="31.30" cy="2.5" r="1.3" fill="#7a808a"/><circle cx="36.35" cy="2.5" r="1.3" fill="#7a808a"/></svg><div style="left:348px;top:313px;width:102px;height:22px;background:#21252b;border:1px solid #2c3038;box-sizing:border-box;border-radius:3px;"></div><svg style="left:356.5px;top:322.5px" width="63.199999999999996" height="5" viewBox="0 0 63.199999999999996 5"><circle cx="1.00" cy="2.5" r="1.45" fill="#e6e8ec"/><circle cx="6.05" cy="2.5" r="1.45" fill="#e6e8ec"/><circle cx="11.10" cy="2.5" r="1.45" fill="#e6e8ec"/><circle cx="16.15" cy="2.5" r="1.45" fill="#e6e8ec"/><circle cx="21.20" cy="2.5" r="1.45" fill="#e6e8ec"/><circle cx="26.25" cy="2.5" r="1.45" fill="#e6e8ec"/><circle cx="31.30" cy="2.5" r="1.45" fill="#e6e8ec"/><circle cx="36.35" cy="2.5" r="1.45" fill="#e6e8ec"/><circle cx="41.40" cy="2.5" r="1.45" fill="#e6e8ec"/><circle cx="46.45" cy="2.5" r="1.45" fill="#e6e8ec"/><circle cx="51.50" cy="2.5" r="1.45" fill="#e6e8ec"/><circle cx="56.55" cy="2.5" r="1.45" fill="#e6e8ec"/></svg><div style="left:456px;top:313px;width:150px;height:22px;background:#21252b;border:1px solid #2c3038;box-sizing:border-box;border-radius:3px;"></div><svg style="left:464.6px;top:322.5px" width="109.1" height="5" viewBox="0 0 109.1 5"><circle cx="1.00" cy="2.5" r="1.3" fill="#7a808a"/><circle cx="6.05" cy="2.5" r="1.3" fill="#7a808a"/><circle cx="11.10" cy="2.5" r="1.3" fill="#7a808a"/><circle cx="16.15" cy="2.5" r="1.3" fill="#7a808a"/><circle cx="21.20" cy="2.5" r="1.3" fill="#7a808a"/><circle cx="26.25" cy="2.5" r="1.3" fill="#7a808a"/><circle cx="31.30" cy="2.5" r="1.3" fill="#7a808a"/><circle cx="36.35" cy="2.5" r="1.3" fill="#7a808a"/><circle cx="41.40" cy="2.5" r="1.3" fill="#7a808a"/><circle cx="46.45" cy="2.5" r="1.3" fill="#7a808a"/><circle cx="51.50" cy="2.5" r="1.3" fill="#7a808a"/><circle cx="56.55" cy="2.5" r="1.3" fill="#7a808a"/><circle cx="61.60" cy="2.5" r="1.3" fill="#7a808a"/><circle cx="66.65" cy="2.5" r="1.3" fill="#7a808a"/><circle cx="71.70" cy="2.5" r="1.3" fill="#7a808a"/><circle cx="76.75" cy="2.5" r="1.3" fill="#7a808a"/><circle cx="81.80" cy="2.5" r="1.3" fill="#7a808a"/><circle cx="86.85" cy="2.5" r="1.3" fill="#7a808a"/><circle cx="91.90" cy="2.5" r="1.3" fill="#7a808a"/><circle cx="96.95" cy="2.5" r="1.3" fill="#7a808a"/><circle cx="102.00" cy="2.5" r="1.3" fill="#7a808a"/></svg><div class="t" style="left:634.00px;top:84.00px;color:#b8bec8;letter-spacing:-0.300px;">Themes:</div><svg style="left:704px;top:83px" width="15" height="15" viewBox="0 0 15 15"><path d="M7.5 1.5V8.5" stroke="#c8ccd2" stroke-width="1.4"/><path d="M3.9 6.4H11.1L7.5 9.8Z" fill="#c8ccd2"/><path d="M1.4 12.5H13.6" stroke="#c8ccd2" stroke-width="1.4"/></svg><svg style="left:730px;top:83px" width="15" height="15" viewBox="0 0 15 15"><path fill="#ffffff" transform="scale(0.9375)" d="M8 0C3.58 0 0 3.58 0 8c0 3.54 2.29 6.53 5.47 7.59.4.07.55-.17.55-.38 0-.19-.01-.82-.01-1.49-2.01.37-2.53-.49-2.69-.94-.09-.23-.48-.94-.82-1.13-.28-.15-.68-.52-.01-.53.63-.01 1.08.58 1.23.82.72 1.21 1.87.87 2.33.66.07-.52.28-.87.51-1.07-1.78-.2-3.64-.89-3.64-3.95 0-.87.31-1.59.82-2.15-.08-.2-.36-1.02.08-2.12 0 0 .67-.21 2.2.82.64-.18 1.32-.27 2-.27.68 0 1.36.09 2 .27 1.53-1.04 2.2-.82 2.2-.82.44 1.1.16 1.92.08 2.12.51.56.82 1.27.82 2.15 0 3.07-1.87 3.75-3.65 3.95.29.25.54.73.54 1.48 0 1.07-.01 1.93-.01 2.2 0 .21.15.46.55.38A8.013 8.013 0 0016 8c0-4.42-3.58-8-8-8z"/></svg><div style="left:759.5px;top:79.5px;width:59px;height:22px;background:#333841;border:1px solid #33373f;box-sizing:border-box;border-radius:3px;"></div><div class="t" style="left:766.70px;top:84.00px;color:#b8bec8;">all</div><svg style="left:803.2px;top:87.7px" width="9" height="5" viewBox="0 0 9 5"><path d="M0 0L9 0L4.5 5Z" fill="#c8ccd2"/></svg><div style="left:633px;top:107px;width:185px;height:259px;background:#21252b;border:1px solid #33373f;box-sizing:border-box;border-radius:2px;"></div><div style="left:634px;top:108px;width:183px;height:257px;overflow:hidden"><div class="t" style="left:6.70px;top:-13.00px;color:#b8bec8;">Gradianto Nature Green</div><div class="t" style="left:6.70px;top:5.00px;color:#b8bec8;letter-spacing:-0.767px;">Gray</div><div class="t" style="left:6.70px;top:23.00px;color:#b8bec8;letter-spacing:-0.125px;">Gruvbox Dark Hard</div><div class="t" style="left:6.70px;top:41.00px;color:#b8bec8;letter-spacing:0.083px;">Gruvbox Dark Medium</div><div class="t" style="left:6.70px;top:59.00px;color:#b8bec8;letter-spacing:-0.119px;">Gruvbox Dark Soft</div><div class="t" style="left:5.70px;top:77.00px;color:#b8bec8;letter-spacing:0.075px;">Hiberbee Dark</div><div class="t" style="left:5.70px;top:95.00px;color:#b8bec8;letter-spacing:0.150px;">High contrast</div><div class="t" style="left:5.70px;top:113.00px;color:#b8bec8;">Light Flat</div><div class="t" style="left:5.70px;top:131.00px;color:#b8bec8;">Material Design Dark</div><div class="t" style="left:5.70px;top:149.00px;color:#b8bec8;letter-spacing:0.417px;">Monocai</div><div class="t" style="left:5.70px;top:167.00px;color:#b8bec8;letter-spacing:0.933px;">Nord</div><div style="left:0px;top:182px;width:173.5px;height:18px;background:#2c313a"></div><div class="t" style="left:6.70px;top:185.00px;color:#b8bec8;">One Dark</div><div class="t" style="left:5.70px;top:203.00px;color:#b8bec8;letter-spacing:-0.115px;">Solarized Dark</div><div class="t" style="left:5.70px;top:221.00px;color:#b8bec8;">Solarized Light</div><div class="t" style="left:5.70px;top:239.00px;color:#b8bec8;letter-spacing:-0.175px;">Spacegray</div><div class="t" style="left:6.70px;top:257.00px;color:#b8bec8;">Vuesion</div><div style="left:173.5px;top:0px;width:9.5px;height:257px;background:#23272e"></div><div style="left:173.5px;top:80.4px;width:9.5px;height:51.19999999999999px;background:#3a3f48"></div></div><div style="left:11px;top:376px;width:808px;height:1px;background:#21252b;"></div><div style="left:11px;top:377px;width:808px;height:2px;background:#30353d;"></div><div style="left:11px;top:387px;width:121px;height:22px;background:#333841;border:1px solid #33373f;box-sizing:border-box;border-radius:3px;"></div><div class="t" style="left:18.60px;top:391.40px;color:#b8bec8;letter-spacing:-0.057px;">One Dark</div><svg style="left:117px;top:395.1px" width="9" height="5" viewBox="0 0 9 5"><path d="M0 0L9 0L4.5 5Z" fill="#c8ccd2"/></svg><div style="left:142.4px;top:390px;width:13.5px;height:13.5px;background:#21252b;border:1px solid #4a4f58;box-sizing:border-box;border-radius:2.5px;"></div><div class="t" style="left:159.00px;top:391.40px;color:#b8bec8;letter-spacing:0.583px;">right-to-left</div><div style="left:235.6px;top:390px;width:13.5px;height:13.5px;background:#21252b;border:1px solid #4a4f58;box-sizing:border-box;border-radius:2.5px;"></div><svg style="left:235.6px;top:390px" width="14" height="14" viewBox="0 0 14 14"><path d="M3.2 7.2L5.8 10L10.8 3.4" fill="none" stroke="#e6e8ec" stroke-width="1.6"/></svg><div class="t" style="left:253.60px;top:391.40px;color:#b8bec8;">enabled</div><div class="t" style="left:386.60px;top:391.40px;color:#b8bec8;letter-spacing:-0.262px;">(Java 1.8.0_202;  user scale factor 2.0; Segoe UI 24)</div><div style="left:743.8px;top:386.7px;width:74.5px;height:22px;background:#568af2;border-radius:3px;border:1px solid #568af2;box-sizing:border-box;"></div><div class="t" style="left:766.00px;top:391.40px;color:#ffffff;letter-spacing:-0.500px;font-weight:bold;">Close</div><div style="left:1px;top:1px;width:828px;height:418px;border:1px solid #21252b;box-sizing:border-box;"></div><div style="left:0px;top:0px;width:830px;height:420px;border:1px solid #1a1d22;box-sizing:border-box;"></div></div><div class="win" style="left:0px;top:430px;background:#e4e6eb"><div style="left:0px;top:0px;width:830px;height:30px;background:#e4e6eb;"></div><div style="left:0px;top:30px;width:830px;height:2px;background:#c8ccd4;"></div><svg style="left:8px;top:7px" width="17" height="17" viewBox="0 0 17 17"><rect x="0.5" y="0.5" width="16" height="16" rx="1" fill="#d95a00"/><path d="M4.3 3.4h5v1.6h-3.3v2.3h2.8v1.5h-2.8v3.9h-1.7z" fill="#fff"/><path d="M9.6 6.6h1.6v5.2h2.7v1.5h-4.3z" fill="#fff"/></svg><div class="t" style="left:40.00px;top:9.00px;color:#2a2a2a;letter-spacing:-0.167px;">File</div><div class="t" style="left:74.20px;top:9.00px;color:#2a2a2a;letter-spacing:-0.333px;">Edit</div><div class="t" style="left:111.00px;top:9.00px;color:#2a2a2a;letter-spacing:-0.167px;">View</div><div class="t" style="left:152.00px;top:9.00px;color:#2a2a2a;">Font</div><div class="t" style="left:192.60px;top:9.00px;color:#2a2a2a;">Options</div><div class="t" style="left:249.60px;top:9.00px;color:#2a2a2a;letter-spacing:0.433px;">Help</div><div class="t" style="left:466.00px;top:9.00px;color:#4a4a4a;letter-spacing:-0.091px;">FlatLaf Demo</div><svg style="left:712px;top:8px" width="16" height="16" viewBox="0 0 16 16"><path d="M2 7.5h10.5" stroke="#6a6e6a" stroke-width="1"/></svg><svg style="left:757px;top:9px" width="13" height="13" viewBox="0 0 13 13"><rect x="2.1" y="1.9" width="9.2" height="9.3" rx="1.4" fill="none" stroke="#7a7f7a" stroke-width="1.35"/></svg><svg style="left:801px;top:9px" width="14" height="14" viewBox="0 0 14 14"><path d="M1 1.2L12 12.2M12 1.2L1 12.2" stroke="#3c3c3c" stroke-width="1.05"/></svg><svg style="left:7px;top:41px" width="3" height="16" viewBox="0 0 3 16"><circle cx="1.5" cy="1.5" r="0.75" fill="#9c9c9c"/><circle cx="1.5" cy="5.5" r="0.75" fill="#9c9c9c"/><circle cx="1.5" cy="9.5" r="0.75" fill="#9c9c9c"/><circle cx="1.5" cy="13.5" r="0.75" fill="#9c9c9c"/></svg><svg style="left:16px;top:42px" width="16" height="13" viewBox="0 0 16 13"><path d="M2 6.4h12.5M6.5 1.8L1.9 6.4L6.5 11" fill="none" stroke="#5a5d63" stroke-width="1.5"/></svg><svg style="left:42.5px;top:42px" width="16" height="13" viewBox="0 0 16 13"><path d="M1.5 6.4h12.5M9.5 1.8L14.1 6.4L9.5 11" fill="none" stroke="#5a5d63" stroke-width="1.5"/></svg><div style="left:66.5px;top:39px;width:1px;height:20px;background:#c8ccd2;"></div><div style="left:151.5px;top:39px;width:1px;height:20px;background:#c8ccd2;"></div><div style="left:184.5px;top:39px;width:1px;height:20px;background:#c8ccd2;"></div><svg style="left:76px;top:41px" width="15" height="15" viewBox="0 0 15 15"><circle cx="3.6" cy="3.2" r="2.2" fill="none" stroke="#5a5d63" stroke-width="1.3"/><circle cx="3.6" cy="11.7" r="2.2" fill="none" stroke="#5a5d63" stroke-width="1.3"/><path d="M5.2 4.8L13.8 13.4M5.2 10.1L7.4 7.9M8.9 6.4L13.8 1.6" fill="none" stroke="#5a5d63" stroke-width="1.3"/></svg><svg style="left:102px;top:40px" width="16" height="16" viewBox="0 0 16 16"><path d="M2.6 9.5V2.6h8.5" fill="none" stroke="#5a5d63" stroke-width="1.3"/><rect x="5.6" y="5.6" width="7.3" height="8.4" fill="#b4b4b4" stroke="#5a5d63" stroke-width="1.3"/><path d="M5 13.3h8.6" stroke="#5a5d63" stroke-width="1.4"/></svg><svg style="left:129px;top:40px" width="13" height="16" viewBox="0 0 13 16"><rect x="1.9" y="2.8" width="9" height="11.3" fill="#ffffff" stroke="#5a5d63" stroke-width="1.3"/><path d="M4 2.2h5v1.6h-5z M5.5 1.3h2v1h-2z" fill="#5a5d63"/></svg><svg style="left:161px;top:41px" width="15" height="15" viewBox="0 0 15 15"><path d="M3.2 5.2A5 5 0 0 1 12.2 5.6" fill="none" stroke="#5a5d63" stroke-width="1.6"/><path d="M11.9 9.4A5 5 0 0 1 2.9 9.2" fill="none" stroke="#5a5d63" stroke-width="1.6"/><path d="M1.6 1.6L1.6 6.4L6.2 6.2Z" fill="#5a5d63"/><path d="M13.6 13.4L13.6 8.4L9 8.6Z" fill="#5a5d63"/></svg><div style="left:190.5px;top:37.5px;width:22px;height:22px;background:#c9cacd;border-radius:2.5px;"></div><svg style="left:194px;top:42px" width="15" height="13" viewBox="0 0 15 13"><path d="M0.6 6.3C2.6 2.5 5 1.4 7.4 1.4S12.2 2.5 14.2 6.3C12.2 10.1 9.8 11.3 7.4 11.3S2.6 10.1 0.6 6.3Z" fill="#5a5d63"/><circle cx="7.4" cy="6.3" r="3.3" fill="#c9cacd"/><circle cx="7.4" cy="6.3" r="1.9" fill="#5a5d63"/></svg><div class="t" style="left:22.60px;top:86.40px;color:#1e1e1e;letter-spacing:-0.127px;">Basic Components</div><div class="t" style="left:145.40px;top:86.40px;color:#1e1e1e;letter-spacing:0.121px;">More Components</div><div class="t" style="left:269.60px;top:86.40px;color:#1e1e1e;letter-spacing:0.021px;">Data Components</div><div class="t" style="left:391.00px;top:86.40px;color:#1e1e1e;letter-spacing:-0.367px;">Tabs</div><div class="t" style="left:439.60px;top:86.40px;color:#1e1e1e;">Option Pane</div><div class="t" style="left:529.40px;top:86.40px;color:#1e1e1e;letter-spacing:-0.600px;">Extras</div><div style="left:12px;top:108px;width:611px;height:2px;background:#c3c8d0;"></div><div style="left:12px;top:107px;width:122px;height:1px;background:#0ea5cc;opacity:0.45;"></div><div style="left:12px;top:108px;width:122px;height:2px;background:#0ea5cc;"></div><div class="t" style="left:23.00px;top:122.00px;color:#1e1e1e;letter-spacing:-0.567px;">JLabel:</div><div class="t" style="left:23.00px;top:148.20px;color:#1e1e1e;letter-spacing:-0.057px;">JButton:</div><div class="t" style="left:23.00px;top:176.00px;color:#1e1e1e;letter-spacing:-0.625px;">JCheckBox</div><div class="t" style="left:23.00px;top:203.00px;color:#1e1e1e;letter-spacing:-0.117px;">JRadioButton:</div><div class="t" style="left:23.00px;top:231.00px;color:#1e1e1e;letter-spacing:-0.333px;">JComboBox:</div><div class="t" style="left:23.00px;top:259.80px;color:#1e1e1e;letter-spacing:-0.300px;">JSpinner:</div><div class="t" style="left:23.00px;top:288.80px;color:#1e1e1e;letter-spacing:-0.140px;">JTextField:</div><div class="t" style="left:23.00px;top:317.80px;color:#1e1e1e;letter-spacing:-0.429px;">JPasswordField:</div><div class="t" style="left:130.40px;top:122.00px;color:#1e1e1e;">Enabled</div><div class="t" style="left:239.00px;top:122.00px;color:#a8aab0;">Disabled</div><div style="left:131px;top:143px;width:72px;height:22px;background:#ffffff;border:1px solid #a9b1bf;box-sizing:border-box;border-radius:3px;"></div><div class="t" style="left:145.60px;top:148.20px;color:#1e1e1e;">Enabled</div><div style="left:239px;top:143px;width:77px;height:22px;background:#e4e6eb;border:1px solid #c6cbd3;box-sizing:border-box;border-radius:3px;"></div><div class="t" style="left:253.60px;top:148.20px;color:#a8aab0;">Disabled</div><div style="left:348px;top:143px;width:72px;height:22px;background:#ffffff;border:1px solid #a9b1bf;box-sizing:border-box;"></div><div class="t" style="left:365.00px;top:148.20px;color:#1e1e1e;">Square</div><div style="left:456px;top:143px;width:72px;height:22px;background:#ffffff;border:1px solid #a9b1bf;box-sizing:border-box;border-radius:11px;"></div><div class="t" style="left:474.20px;top:148.20px;color:#1e1e1e;">Round</div><div style="left:536px;top:144px;width:21px;height:21px;background:#ffffff;border:1px solid #a9b1bf;box-sizing:border-box;border-radius:11px;"></div><svg style="left:536px;top:144px" width="21" height="21" viewBox="0 0 21 21"><path d="M7.3 8.4C7.3 6.5 8.7 5.5 10.6 5.5C12.5 5.5 13.9 6.6 13.9 8.3C13.9 9.9 12.7 10.6 11.7 11.3C10.9 11.9 10.6 12.4 10.6 13.6" fill="none" stroke="#2d8ee0" stroke-width="1.55"/><circle cx="10.6" cy="15.8" r="1.05" fill="#2d8ee0"/></svg><div style="left:565px;top:144px;width:21px;height:21px;background:#e4e6eb;border:1px solid #c6cbd3;box-sizing:border-box;border-radius:11px;"></div><svg style="left:565px;top:144px" width="21" height="21" viewBox="0 0 21 21"><path d="M7.3 8.4C7.3 6.5 8.7 5.5 10.6 5.5C12.5 5.5 13.9 6.6 13.9 8.3C13.9 9.9 12.7 10.6 11.7 11.3C10.9 11.9 10.6 12.4 10.6 13.6" fill="none" stroke="#a8aab0" stroke-width="1.55"/><circle cx="10.6" cy="15.8" r="1.05" fill="#a8aab0"/></svg><div style="left:134.2px;top:175px;width:13.5px;height:13.5px;background:#ffffff;border:1px solid #7c8290;box-sizing:border-box;border-radius:2.5px;"></div><div class="t" style="left:151.60px;top:176.00px;color:#1e1e1e;">Enabled</div><div style="left:242.6px;top:175px;width:13.5px;height:13.5px;background:#e4e6eb;border:1px solid #c0c5cd;box-sizing:border-box;border-radius:2.5px;"></div><div class="t" style="left:260.00px;top:176.00px;color:#a8aab0;">Disabled</div><div style="left:351px;top:175px;width:13.5px;height:13.5px;background:#27a2c4;border:1px solid #27a2c4;box-sizing:border-box;border-radius:2.5px;"></div><svg style="left:351px;top:175px" width="14" height="14" viewBox="0 0 14 14"><path d="M3.2 7.2L5.8 10L10.8 3.4" fill="none" stroke="#ffffff" stroke-width="1.6"/></svg><div class="t" style="left:368.40px;top:176.00px;color:#1e1e1e;">Selected</div><div style="left:459.6px;top:175px;width:13.5px;height:13.5px;background:#e4e6eb;border:1px solid #c0c5cd;box-sizing:border-box;border-radius:2.5px;"></div><svg style="left:459.6px;top:175px" width="14" height="14" viewBox="0 0 14 14"><path d="M3.2 7.2L5.8 10L10.8 3.4" fill="none" stroke="#b0b3b8" stroke-width="1.6"/></svg><div class="t" style="left:477.00px;top:176.00px;color:#a8aab0;">Selected disabled</div><div style="left:133.2px;top:202px;width:14.5px;height:14.5px;background:#ffffff;border:1px solid #7c8290;box-sizing:border-box;border-radius:8px;"></div><div class="t" style="left:151.60px;top:203.00px;color:#1e1e1e;">Enabled</div><div style="left:241.6px;top:202px;width:14.5px;height:14.5px;background:#e4e6eb;border:1px solid #c0c5cd;box-sizing:border-box;border-radius:8px;"></div><div class="t" style="left:260.00px;top:203.00px;color:#a8aab0;">Disabled</div><div style="left:350.2px;top:202px;width:14.5px;height:14.5px;background:#27a2c4;border:1px solid #27a2c4;box-sizing:border-box;border-radius:8px;"></div><div style="left:355.2px;top:207px;width:4.5px;height:4.5px;background:#ffffff;border-radius:3px;"></div><div class="t" style="left:368.40px;top:203.00px;color:#1e1e1e;">Selected</div><div style="left:458.6px;top:202px;width:14.5px;height:14.5px;background:#e4e6eb;border:1px solid #c0c5cd;box-sizing:border-box;border-radius:8px;"></div><div style="left:463.6px;top:207px;width:4.5px;height:4.5px;background:#b0b3b8;border-radius:3px;"></div><div class="t" style="left:477.00px;top:203.00px;color:#a8aab0;">Selected disabled</div><div style="left:131px;top:226px;width:102px;height:22px;background:#ffffff;border:1px solid #a9b1bf;box-sizing:border-box;border-radius:3px;"></div><div style="left:211px;top:226px;width:1px;height:22px;background:#a9b1bf;"></div><svg style="left:217.4px;top:235.1px" width="9" height="5" viewBox="0 0 9 5"><path d="M0 0L9 0L4.5 5Z" fill="#555555"/></svg><div class="t" style="left:137.70px;top:230.80px;color:#1e1e1e;">Editable</div><div style="left:239px;top:226px;width:102px;height:22px;background:#e4e6eb;border:1px solid #c6cbd3;box-sizing:border-box;border-radius:3px;"></div><div style="left:320px;top:226px;width:1px;height:22px;background:#c6cbd3;"></div><svg style="left:325.8px;top:235.1px" width="9" height="5" viewBox="0 0 9 5"><path d="M0 0L9 0L4.5 5Z" fill="#aaaaaa"/></svg><div class="t" style="left:245.70px;top:230.80px;color:#a8aab0;">Disabled</div><div style="left:348px;top:226px;width:102px;height:22px;background:#ffffff;border:1px solid #a9b1bf;box-sizing:border-box;border-radius:3px;"></div><svg style="left:434.2px;top:235.1px" width="9" height="5" viewBox="0 0 9 5"><path d="M0 0L9 0L4.5 5Z" fill="#555555"/></svg><div class="t" style="left:354.40px;top:230.80px;color:#1e1e1e;letter-spacing:0.236px;">Not editable</div><div style="left:456px;top:226px;width:150px;height:22px;background:#e4e6eb;border:1px solid #c6cbd3;box-sizing:border-box;border-radius:3px;"></div><svg style="left:591px;top:235.1px" width="9" height="5" viewBox="0 0 9 5"><path d="M0 0L9 0L4.5 5Z" fill="#aaaaaa"/></svg><div class="t" style="left:462.60px;top:230.80px;color:#a8aab0;letter-spacing:0.150px;">Not editable disabled</div><div style="left:131px;top:256px;width:102px;height:22px;background:#ffffff;border:1px solid #a9b1bf;box-sizing:border-box;border-radius:3px;"></div><div style="left:211px;top:256px;width:1px;height:22px;background:#a9b1bf;"></div><svg style="left:217.4px;top:260.2px" width="9" height="5" viewBox="0 0 9 5"><path d="M0 5L4.5 0L9 5Z" fill="#555555"/></svg><svg style="left:217.4px;top:268.1px" width="9" height="5" viewBox="0 0 9 5"><path d="M0 0L9 0L4.5 5Z" fill="#555555"/></svg><div class="t" style="left:198.80px;top:260.00px;color:#1e1e1e;">0</div><div style="left:239px;top:256px;width:102px;height:22px;background:#e4e6eb;border:1px solid #c6cbd3;box-sizing:border-box;border-radius:3px;"></div><div style="left:320px;top:256px;width:1px;height:22px;background:#c6cbd3;"></div><svg style="left:325.8px;top:260.2px" width="9" height="5" viewBox="0 0 9 5"><path d="M0 5L4.5 0L9 5Z" fill="#aaaaaa"/></svg><svg style="left:325.8px;top:268.1px" width="9" height="5" viewBox="0 0 9 5"><path d="M0 0L9 0L4.5 5Z" fill="#aaaaaa"/></svg><div class="t" style="left:306.80px;top:260.00px;color:#a8aab0;">0</div><div style="left:129px;top:282px;width:106px;height:26px;background:#ffffff;border-radius:4px;border:3px solid #3ab4d4;box-sizing:border-box;"></div><div class="t" style="left:137.70px;top:288.80px;color:#1e1e1e;">Editable</div><div style="left:180px;top:287.5px;width:1px;height:16px;background:#1e1e1e;"></div><div style="left:239px;top:284px;width:102px;height:22px;background:#e4e6eb;border:1px solid #c6cbd3;box-sizing:border-box;border-radius:3px;"></div><div class="t" style="left:245.70px;top:288.80px;color:#a8aab0;">Disabled</div><div style="left:348px;top:284px;width:102px;height:22px;background:#e4e6eb;border:1px solid #c6cbd3;box-sizing:border-box;border-radius:3px;"></div><div class="t" style="left:354.40px;top:288.80px;color:#1e1e1e;letter-spacing:0.236px;">Not editable</div><div style="left:456px;top:284px;width:150px;height:22px;background:#e4e6eb;border:1px solid #c6cbd3;box-sizing:border-box;border-radius:3px;"></div><div class="t" style="left:462.60px;top:288.80px;color:#a8aab0;letter-spacing:0.150px;">Not editable disabled</div><div style="left:131px;top:313px;width:102px;height:22px;background:#ffffff;border:1px solid #a9b1bf;box-sizing:border-box;border-radius:3px;"></div><svg style="left:139.5px;top:322.5px" width="42.8" height="5" viewBox="0 0 42.8 5"><circle cx="1.00" cy="2.5" r="1.45" fill="#000000"/><circle cx="6.05" cy="2.5" r="1.45" fill="#000000"/><circle cx="11.10" cy="2.5" r="1.45" fill="#000000"/><circle cx="16.15" cy="2.5" r="1.45" fill="#000000"/><circle cx="21.20" cy="2.5" r="1.45" fill="#000000"/><circle cx="26.25" cy="2.5" r="1.45" fill="#000000"/><circle cx="31.30" cy="2.5" r="1.45" fill="#000000"/><circle cx="36.35" cy="2.5" r="1.45" fill="#000000"/></svg><div style="left:239px;top:313px;width:102px;height:22px;background:#e4e6eb;border:1px solid #c6cbd3;box-sizing:border-box;border-radius:3px;"></div><svg style="left:247.5px;top:322.5px" width="42.8" height="5" viewBox="0 0 42.8 5"><circle cx="1.00" cy="2.5" r="1.3" fill="#a8aab0"/><circle cx="6.05" cy="2.5" r="1.3" fill="#a8aab0"/><circle cx="11.10" cy="2.5" r="1.3" fill="#a8aab0"/><circle cx="16.15" cy="2.5" r="1.3" fill="#a8aab0"/><circle cx="21.20" cy="2.5" r="1.3" fill="#a8aab0"/><circle cx="26.25" cy="2.5" r="1.3" fill="#a8aab0"/><circle cx="31.30" cy="2.5" r="1.3" fill="#a8aab0"/><circle cx="36.35" cy="2.5" r="1.3" fill="#a8aab0"/></svg><div style="left:348px;top:313px;width:102px;height:22px;background:#e4e6eb;border:1px solid #c6cbd3;box-sizing:border-box;border-radius:3px;"></div><svg style="left:356.5px;top:322.5px" width="63.199999999999996" height="5" viewBox="0 0 63.199999999999996 5"><circle cx="1.00" cy="2.5" r="1.45" fill="#000000"/><circle cx="6.05" cy="2.5" r="1.45" fill="#000000"/><circle cx="11.10" cy="2.5" r="1.45" fill="#000000"/><circle cx="16.15" cy="2.5" r="1.45" fill="#000000"/><circle cx="21.20" cy="2.5" r="1.45" fill="#000000"/><circle cx="26.25" cy="2.5" r="1.45" fill="#000000"/><circle cx="31.30" cy="2.5" r="1.45" fill="#000000"/><circle cx="36.35" cy="2.5" r="1.45" fill="#000000"/><circle cx="41.40" cy="2.5" r="1.45" fill="#000000"/><circle cx="46.45" cy="2.5" r="1.45" fill="#000000"/><circle cx="51.50" cy="2.5" r="1.45" fill="#000000"/><circle cx="56.55" cy="2.5" r="1.45" fill="#000000"/></svg><div style="left:456px;top:313px;width:150px;height:22px;background:#e4e6eb;border:1px solid #c6cbd3;box-sizing:border-box;border-radius:3px;"></div><svg style="left:464.6px;top:322.5px" width="109.1" height="5" viewBox="0 0 109.1 5"><circle cx="1.00" cy="2.5" r="1.3" fill="#a8aab0"/><circle cx="6.05" cy="2.5" r="1.3" fill="#a8aab0"/><circle cx="11.10" cy="2.5" r="1.3" fill="#a8aab0"/><circle cx="16.15" cy="2.5" r="1.3" fill="#a8aab0"/><circle cx="21.20" cy="2.5" r="1.3" fill="#a8aab0"/><circle cx="26.25" cy="2.5" r="1.3" fill="#a8aab0"/><circle cx="31.30" cy="2.5" r="1.3" fill="#a8aab0"/><circle cx="36.35" cy="2.5" r="1.3" fill="#a8aab0"/><circle cx="41.40" cy="2.5" r="1.3" fill="#a8aab0"/><circle cx="46.45" cy="2.5" r="1.3" fill="#a8aab0"/><circle cx="51.50" cy="2.5" r="1.3" fill="#a8aab0"/><circle cx="56.55" cy="2.5" r="1.3" fill="#a8aab0"/><circle cx="61.60" cy="2.5" r="1.3" fill="#a8aab0"/><circle cx="66.65" cy="2.5" r="1.3" fill="#a8aab0"/><circle cx="71.70" cy="2.5" r="1.3" fill="#a8aab0"/><circle cx="76.75" cy="2.5" r="1.3" fill="#a8aab0"/><circle cx="81.80" cy="2.5" r="1.3" fill="#a8aab0"/><circle cx="86.85" cy="2.5" r="1.3" fill="#a8aab0"/><circle cx="91.90" cy="2.5" r="1.3" fill="#a8aab0"/><circle cx="96.95" cy="2.5" r="1.3" fill="#a8aab0"/><circle cx="102.00" cy="2.5" r="1.3" fill="#a8aab0"/></svg><div class="t" style="left:634.00px;top:84.00px;color:#1e1e1e;letter-spacing:-0.300px;">Themes:</div><svg style="left:704px;top:83px" width="15" height="15" viewBox="0 0 15 15"><path d="M7.5 1.5V8.5" stroke="#5a5d63" stroke-width="1.4"/><path d="M3.9 6.4H11.1L7.5 9.8Z" fill="#5a5d63"/><path d="M1.4 12.5H13.6" stroke="#5a5d63" stroke-width="1.4"/></svg><svg style="left:730px;top:83px" width="15" height="15" viewBox="0 0 15 15"><path fill="#000000" transform="scale(0.9375)" d="M8 0C3.58 0 0 3.58 0 8c0 3.54 2.29 6.53 5.47 7.59.4.07.55-.17.55-.38 0-.19-.01-.82-.01-1.49-2.01.37-2.53-.49-2.69-.94-.09-.23-.48-.94-.82-1.13-.28-.15-.68-.52-.01-.53.63-.01 1.08.58 1.23.82.72 1.21 1.87.87 2.33.66.07-.52.28-.87.51-1.07-1.78-.2-3.64-.89-3.64-3.95 0-.87.31-1.59.82-2.15-.08-.2-.36-1.02.08-2.12 0 0 .67-.21 2.2.82.64-.18 1.32-.27 2-.27.68 0 1.36.09 2 .27 1.53-1.04 2.2-.82 2.2-.82.44 1.1.16 1.92.08 2.12.51.56.82 1.27.82 2.15 0 3.07-1.87 3.75-3.65 3.95.29.25.54.73.54 1.48 0 1.07-.01 1.93-.01 2.2 0 .21.15.46.55.38A8.013 8.013 0 0016 8c0-4.42-3.58-8-8-8z"/></svg><div style="left:759.5px;top:79.5px;width:59px;height:22px;background:#ffffff;border:1px solid #a9b1bf;box-sizing:border-box;border-radius:3px;"></div><div class="t" style="left:766.70px;top:84.00px;color:#1e1e1e;">all</div><svg style="left:803.2px;top:87.7px" width="9" height="5" viewBox="0 0 9 5"><path d="M0 0L9 0L4.5 5Z" fill="#555555"/></svg><div style="left:633px;top:107px;width:185px;height:259px;background:#eff0f4;border:1px solid #a9b1bf;box-sizing:border-box;border-radius:2px;"></div><div style="left:634px;top:108px;width:183px;height:257px;overflow:hidden"><div class="t" style="left:5.70px;top:-12.00px;color:#1e1e1e;">DemoLaf</div><div style="left:5px;top:11px;width:38.200000000000045px;height:2px;background:#9ea2aa"></div><div style="left:130.70000000000005px;top:11px;width:38.299999999999955px;height:2px;background:#9ea2aa"></div><div class="t" style="left:46.70px;top:5.00px;color:#a8aab0;">IntelliJ Themes</div><div class="t" style="left:6.70px;top:22.00px;color:#1e1e1e;letter-spacing:-0.750px;">Arc</div><div class="t" style="left:6.70px;top:40.00px;color:#1e1e1e;">Arc - Orange</div><div class="t" style="left:6.70px;top:58.00px;color:#1e1e1e;letter-spacing:-0.329px;">Arc Dark</div><div class="t" style="left:6.70px;top:76.00px;color:#1e1e1e;">Arc Dark - Orange</div><div class="t" style="left:6.70px;top:94.00px;color:#1e1e1e;">Carbon</div><div class="t" style="left:6.70px;top:112.00px;color:#1e1e1e;">Cobalt 2</div><div style="left:0px;top:127px;width:173.5px;height:18px;background:#d0d5de"></div><div class="t" style="left:6.70px;top:130.00px;color:#1e1e1e;letter-spacing:0.111px;">Cyan light</div><div class="t" style="left:5.70px;top:148.00px;color:#1e1e1e;letter-spacing:-0.138px;">Dark Flat</div><div class="t" style="left:5.70px;top:166.00px;color:#1e1e1e;letter-spacing:0.140px;">Dark purple</div><div class="t" style="left:5.70px;top:184.00px;color:#1e1e1e;letter-spacing:-0.183px;">Dracula</div><div class="t" style="left:6.70px;top:202.00px;color:#1e1e1e;letter-spacing:-0.190px;">Gradianto Dark Fuchsia</div><div class="t" style="left:6.70px;top:220.00px;color:#1e1e1e;letter-spacing:-0.079px;">Gradianto Deep Ocean</div><div class="t" style="left:6.70px;top:238.00px;color:#1e1e1e;letter-spacing:0.150px;">Gradianto Midnight Blue</div><div class="t" style="left:6.70px;top:256.00px;color:#1e1e1e;">Gradianto Nature Green</div><div style="left:173.5px;top:0px;width:9.5px;height:257px;background:#e9eaee"></div><div style="left:173.5px;top:25.19999999999999px;width:9.5px;height:51.5px;background:#c3c9d2"></div></div><div style="left:11px;top:376px;width:808px;height:1px;background:#e4e6eb;"></div><div style="left:11px;top:377px;width:808px;height:2px;background:#c3c8d0;"></div><div style="left:11px;top:387px;width:121px;height:22px;background:#ffffff;border:1px solid #a9b1bf;box-sizing:border-box;border-radius:3px;"></div><div class="t" style="left:18.60px;top:391.40px;color:#1e1e1e;letter-spacing:0.111px;">Cyan light</div><svg style="left:117px;top:395.1px" width="9" height="5" viewBox="0 0 9 5"><path d="M0 0L9 0L4.5 5Z" fill="#555555"/></svg><div style="left:142.4px;top:390px;width:13.5px;height:13.5px;background:#ffffff;border:1px solid #7c8290;box-sizing:border-box;border-radius:2.5px;"></div><div class="t" style="left:159.00px;top:391.40px;color:#1e1e1e;letter-spacing:0.583px;">right-to-left</div><div style="left:235.6px;top:390px;width:13.5px;height:13.5px;background:#27a2c4;border:1px solid #27a2c4;box-sizing:border-box;border-radius:2.5px;"></div><svg style="left:235.6px;top:390px" width="14" height="14" viewBox="0 0 14 14"><path d="M3.2 7.2L5.8 10L10.8 3.4" fill="none" stroke="#ffffff" stroke-width="1.6"/></svg><div class="t" style="left:253.60px;top:391.40px;color:#1e1e1e;">enabled</div><div class="t" style="left:386.60px;top:391.40px;color:#1e1e1e;letter-spacing:-0.262px;">(Java 1.8.0_202;  user scale factor 2.0; Segoe UI 24)</div><div style="left:743.8px;top:386.7px;width:74.5px;height:22px;background:#27a2c4;border-radius:3px;border:1px solid #27a2c4;box-sizing:border-box;"></div><div class="t" style="left:766.00px;top:391.40px;color:#ffffff;letter-spacing:-0.500px;font-weight:bold;">Close</div><div style="left:1px;top:1px;width:828px;height:418px;border:1px solid #f2f3f6;box-sizing:border-box;"></div><div style="left:0px;top:0px;width:830px;height:420px;border:1px solid #9097aa;box-sizing:border-box;"></div></div><div class="win" style="left:840px;top:430px;background:#172030"><div style="left:0px;top:0px;width:830px;height:30px;background:#172030;"></div><div style="left:0px;top:30px;width:830px;height:2px;background:#1f2a3c;"></div><svg style="left:8px;top:7px" width="17" height="17" viewBox="0 0 17 17"><rect x="0.5" y="0.5" width="16" height="16" rx="1" fill="#d95a00"/><path d="M4.3 3.4h5v1.6h-3.3v2.3h2.8v1.5h-2.8v3.9h-1.7z" fill="#fff"/><path d="M9.6 6.6h1.6v5.2h2.7v1.5h-4.3z" fill="#fff"/></svg><div class="t" style="left:40.00px;top:9.00px;color:#c8ced8;letter-spacing:-0.167px;">File</div><div class="t" style="left:74.20px;top:9.00px;color:#c8ced8;letter-spacing:-0.333px;">Edit</div><div class="t" style="left:111.00px;top:9.00px;color:#c8ced8;letter-spacing:-0.167px;">View</div><div class="t" style="left:152.00px;top:9.00px;color:#c8ced8;">Font</div><div class="t" style="left:192.60px;top:9.00px;color:#c8ced8;">Options</div><div class="t" style="left:249.60px;top:9.00px;color:#c8ced8;letter-spacing:0.433px;">Help</div><div class="t" style="left:466.00px;top:9.00px;color:#c0c6d0;letter-spacing:-0.091px;">FlatLaf Demo</div><svg style="left:712px;top:8px" width="16" height="16" viewBox="0 0 16 16"><path d="M2 7.5h10.5" stroke="#c8c8c8" stroke-width="1"/></svg><svg style="left:757px;top:9px" width="13" height="13" viewBox="0 0 13 13"><rect x="2.1" y="1.9" width="9.2" height="9.3" rx="1.4" fill="none" stroke="#a0a4a8" stroke-width="1.35"/></svg><svg style="left:801px;top:9px" width="14" height="14" viewBox="0 0 14 14"><path d="M1 1.2L12 12.2M12 1.2L1 12.2" stroke="#d0d0d0" stroke-width="1.05"/></svg><svg style="left:7px;top:41px" width="3" height="16" viewBox="0 0 3 16"><circle cx="1.5" cy="1.5" r="0.75" fill="#9aa0aa"/><circle cx="1.5" cy="5.5" r="0.75" fill="#9aa0aa"/><circle cx="1.5" cy="9.5" r="0.75" fill="#9aa0aa"/><circle cx="1.5" cy="13.5" r="0.75" fill="#9aa0aa"/></svg><svg style="left:16px;top:42px" width="16" height="13" viewBox="0 0 16 13"><path d="M2 6.4h12.5M6.5 1.8L1.9 6.4L6.5 11" fill="none" stroke="#c6ccd6" stroke-width="1.5"/></svg><svg style="left:42.5px;top:42px" width="16" height="13" viewBox="0 0 16 13"><path d="M1.5 6.4h12.5M9.5 1.8L14.1 6.4L9.5 11" fill="none" stroke="#c6ccd6" stroke-width="1.5"/></svg><div style="left:66.5px;top:39px;width:1px;height:20px;background:#26324a;"></div><div style="left:151.5px;top:39px;width:1px;height:20px;background:#26324a;"></div><div style="left:184.5px;top:39px;width:1px;height:20px;background:#26324a;"></div><svg style="left:76px;top:41px" width="15" height="15" viewBox="0 0 15 15"><circle cx="3.6" cy="3.2" r="2.2" fill="none" stroke="#c6ccd6" stroke-width="1.3"/><circle cx="3.6" cy="11.7" r="2.2" fill="none" stroke="#c6ccd6" stroke-width="1.3"/><path d="M5.2 4.8L13.8 13.4M5.2 10.1L7.4 7.9M8.9 6.4L13.8 1.6" fill="none" stroke="#c6ccd6" stroke-width="1.3"/></svg><svg style="left:102px;top:40px" width="16" height="16" viewBox="0 0 16 16"><path d="M2.6 9.5V2.6h8.5" fill="none" stroke="#c6ccd6" stroke-width="1.3"/><rect x="5.6" y="5.6" width="7.3" height="8.4" fill="#5a6170" stroke="#c6ccd6" stroke-width="1.3"/><path d="M5 13.3h8.6" stroke="#c6ccd6" stroke-width="1.4"/></svg><svg style="left:129px;top:40px" width="13" height="16" viewBox="0 0 13 16"><rect x="1.9" y="2.8" width="9" height="11.3" fill="#172030" stroke="#c6ccd6" stroke-width="1.3"/><path d="M4 2.2h5v1.6h-5z M5.5 1.3h2v1h-2z" fill="#c6ccd6"/></svg><svg style="left:161px;top:41px" width="15" height="15" viewBox="0 0 15 15"><path d="M3.2 5.2A5 5 0 0 1 12.2 5.6" fill="none" stroke="#c6ccd6" stroke-width="1.6"/><path d="M11.9 9.4A5 5 0 0 1 2.9 9.2" fill="none" stroke="#c6ccd6" stroke-width="1.6"/><path d="M1.6 1.6L1.6 6.4L6.2 6.2Z" fill="#c6ccd6"/><path d="M13.6 13.4L13.6 8.4L9 8.6Z" fill="#c6ccd6"/></svg><div style="left:190.5px;top:37.5px;width:22px;height:22px;background:#136b7d;border-radius:2.5px;"></div><svg style="left:194px;top:42px" width="15" height="13" viewBox="0 0 15 13"><path d="M0.6 6.3C2.6 2.5 5 1.4 7.4 1.4S12.2 2.5 14.2 6.3C12.2 10.1 9.8 11.3 7.4 11.3S2.6 10.1 0.6 6.3Z" fill="#e0e6ee"/><circle cx="7.4" cy="6.3" r="3.3" fill="#136b7d"/><circle cx="7.4" cy="6.3" r="1.9" fill="#e0e6ee"/></svg><div class="t" style="left:22.60px;top:86.40px;color:#c6ccd6;letter-spacing:-0.127px;">Basic Components</div><div class="t" style="left:145.40px;top:86.40px;color:#c6ccd6;letter-spacing:0.121px;">More Components</div><div class="t" style="left:269.60px;top:86.40px;color:#c6ccd6;letter-spacing:0.021px;">Data Components</div><div class="t" style="left:391.00px;top:86.40px;color:#c6ccd6;letter-spacing:-0.367px;">Tabs</div><div class="t" style="left:439.60px;top:86.40px;color:#c6ccd6;">Option Pane</div><div class="t" style="left:529.40px;top:86.40px;color:#c6ccd6;letter-spacing:-0.600px;">Extras</div><div style="left:12px;top:108px;width:611px;height:2px;background:#22304a;"></div><div style="left:12px;top:107px;width:122px;height:1px;background:#10798b;opacity:0.45;"></div><div style="left:12px;top:108px;width:122px;height:2px;background:#10798b;"></div><div class="t" style="left:23.00px;top:122.00px;color:#c6ccd6;letter-spacing:-0.567px;">JLabel:</div><div class="t" style="left:23.00px;top:148.20px;color:#c6ccd6;letter-spacing:-0.057px;">JButton:</div><div class="t" style="left:23.00px;top:176.00px;color:#c6ccd6;letter-spacing:-0.625px;">JCheckBox</div><div class="t" style="left:23.00px;top:203.00px;color:#c6ccd6;letter-spacing:-0.117px;">JRadioButton:</div><div class="t" style="left:23.00px;top:231.00px;color:#c6ccd6;letter-spacing:-0.333px;">JComboBox:</div><div class="t" style="left:23.00px;top:259.80px;color:#c6ccd6;letter-spacing:-0.300px;">JSpinner:</div><div class="t" style="left:23.00px;top:288.80px;color:#c6ccd6;letter-spacing:-0.140px;">JTextField:</div><div class="t" style="left:23.00px;top:317.80px;color:#c6ccd6;letter-spacing:-0.429px;">JPasswordField:</div><div class="t" style="left:130.40px;top:122.00px;color:#c6ccd6;">Enabled</div><div class="t" style="left:239.00px;top:122.00px;color:#7f8896;">Disabled</div><div style="left:131px;top:143px;width:72px;height:22px;background:#0b4858;border:2px solid #7f8a94;box-sizing:border-box;border-radius:3px;"></div><div class="t" style="left:145.60px;top:148.20px;color:#c6ccd6;">Enabled</div><div style="left:239px;top:143px;width:77px;height:22px;background:#172030;border:2px solid #3f4b5a;box-sizing:border-box;border-radius:3px;"></div><div class="t" style="left:253.60px;top:148.20px;color:#7f8896;">Disabled</div><div style="left:348px;top:143px;width:72px;height:22px;background:#0b4858;border:2px solid #7f8a94;box-sizing:border-box;"></div><div class="t" style="left:365.00px;top:148.20px;color:#c6ccd6;">Square</div><div style="left:456px;top:143px;width:72px;height:22px;background:#0b4858;border:2px solid #7f8a94;box-sizing:border-box;border-radius:11px;"></div><div class="t" style="left:474.20px;top:148.20px;color:#c6ccd6;">Round</div><div style="left:536px;top:144px;width:21px;height:21px;background:#0b4858;border:2px solid #7f8a94;box-sizing:border-box;border-radius:11px;"></div><svg style="left:536px;top:144px" width="21" height="21" viewBox="0 0 21 21"><path d="M7.3 8.4C7.3 6.5 8.7 5.5 10.6 5.5C12.5 5.5 13.9 6.6 13.9 8.3C13.9 9.9 12.7 10.6 11.7 11.3C10.9 11.9 10.6 12.4 10.6 13.6" fill="none" stroke="#e0e6ee" stroke-width="1.55"/><circle cx="10.6" cy="15.8" r="1.05" fill="#e0e6ee"/></svg><div style="left:565px;top:144px;width:21px;height:21px;background:#172030;border:2px solid #3f4b5a;box-sizing:border-box;border-radius:11px;"></div><svg style="left:565px;top:144px" width="21" height="21" viewBox="0 0 21 21"><path d="M7.3 8.4C7.3 6.5 8.7 5.5 10.6 5.5C12.5 5.5 13.9 6.6 13.9 8.3C13.9 9.9 12.7 10.6 11.7 11.3C10.9 11.9 10.6 12.4 10.6 13.6" fill="none" stroke="#56606e" stroke-width="1.55"/><circle cx="10.6" cy="15.8" r="1.05" fill="#56606e"/></svg><div style="left:134.2px;top:175px;width:13.5px;height:13.5px;background:#1e2838;border:1px solid #5a6474;box-sizing:border-box;border-radius:2.5px;"></div><div class="t" style="left:151.60px;top:176.00px;color:#c6ccd6;">Enabled</div><div style="left:242.6px;top:175px;width:13.5px;height:13.5px;background:#172030;border:1px solid #56616f;box-sizing:border-box;border-radius:2.5px;"></div><div class="t" style="left:260.00px;top:176.00px;color:#7f8896;">Disabled</div><div style="left:351px;top:175px;width:13.5px;height:13.5px;background:#172030;border:1px solid #8a94a0;box-sizing:border-box;border-radius:2.5px;"></div><svg style="left:351px;top:175px" width="14" height="14" viewBox="0 0 14 14"><path d="M3.2 7.2L5.8 10L10.8 3.4" fill="none" stroke="#ffffff" stroke-width="1.6"/></svg><div class="t" style="left:368.40px;top:176.00px;color:#c6ccd6;">Selected</div><div style="left:459.6px;top:175px;width:13.5px;height:13.5px;background:#172030;border:1px solid #6a7484;box-sizing:border-box;border-radius:2.5px;"></div><svg style="left:459.6px;top:175px" width="14" height="14" viewBox="0 0 14 14"><path d="M3.2 7.2L5.8 10L10.8 3.4" fill="none" stroke="#9aa2ae" stroke-width="1.6"/></svg><div class="t" style="left:477.00px;top:176.00px;color:#7f8896;">Selected disabled</div><div style="left:133.2px;top:202px;width:14.5px;height:14.5px;background:#1e2838;border:1px solid #5a6474;box-sizing:border-box;border-radius:8px;"></div><div class="t" style="left:151.60px;top:203.00px;color:#c6ccd6;">Enabled</div><div style="left:241.6px;top:202px;width:14.5px;height:14.5px;background:#172030;border:1px solid #56616f;box-sizing:border-box;border-radius:8px;"></div><div class="t" style="left:260.00px;top:203.00px;color:#7f8896;">Disabled</div><div style="left:350.2px;top:202px;width:14.5px;height:14.5px;background:#172030;border:1px solid #8a94a0;box-sizing:border-box;border-radius:8px;"></div><div style="left:355.2px;top:207px;width:4.5px;height:4.5px;background:#ffffff;border-radius:3px;"></div><div class="t" style="left:368.40px;top:203.00px;color:#c6ccd6;">Selected</div><div style="left:458.6px;top:202px;width:14.5px;height:14.5px;background:#172030;border:1px solid #6a7484;box-sizing:border-box;border-radius:8px;"></div><div style="left:463.6px;top:207px;width:4.5px;height:4.5px;background:#9aa2ae;border-radius:3px;"></div><div class="t" style="left:477.00px;top:203.00px;color:#7f8896;">Selected disabled</div><div style="left:131px;top:226px;width:102px;height:22px;background:#172030;border:1px solid #26344a;box-sizing:border-box;border-radius:3px;"></div><div style="left:211px;top:226px;width:1px;height:22px;background:#26344a;"></div><svg style="left:217.4px;top:235.1px" width="9" height="5" viewBox="0 0 9 5"><path d="M0 0L9 0L4.5 5Z" fill="#c6ccd6"/></svg><div class="t" style="left:137.70px;top:230.80px;color:#c6ccd6;">Editable</div><div style="left:239px;top:226px;width:102px;height:22px;background:#172030;border:2px solid #4a5666;box-sizing:border-box;border-radius:3px;"></div><div style="left:320px;top:226px;width:1px;height:22px;background:#4a5666;"></div><svg style="left:325.8px;top:235.1px" width="9" height="5" viewBox="0 0 9 5"><path d="M0 0L9 0L4.5 5Z" fill="#7f8896"/></svg><div class="t" style="left:245.70px;top:230.80px;color:#7f8896;">Disabled</div><div style="left:348px;top:226px;width:102px;height:22px;background:#1d2a40;border:1px solid #26344a;box-sizing:border-box;border-radius:3px;"></div><svg style="left:434.2px;top:235.1px" width="9" height="5" viewBox="0 0 9 5"><path d="M0 0L9 0L4.5 5Z" fill="#c6ccd6"/></svg><div class="t" style="left:354.40px;top:230.80px;color:#c6ccd6;letter-spacing:0.236px;">Not editable</div><div style="left:456px;top:226px;width:150px;height:22px;background:#172030;border:2px solid #4a5666;box-sizing:border-box;border-radius:3px;"></div><svg style="left:591px;top:235.1px" width="9" height="5" viewBox="0 0 9 5"><path d="M0 0L9 0L4.5 5Z" fill="#7f8896"/></svg><div class="t" style="left:462.60px;top:230.80px;color:#7f8896;letter-spacing:0.150px;">Not editable disabled</div><div style="left:131px;top:256px;width:102px;height:22px;background:#172030;border:1px solid #26344a;box-sizing:border-box;border-radius:3px;"></div><div style="left:211px;top:256px;width:1px;height:22px;background:#26344a;"></div><svg style="left:217.4px;top:260.2px" width="9" height="5" viewBox="0 0 9 5"><path d="M0 5L4.5 0L9 5Z" fill="#c6ccd6"/></svg><svg style="left:217.4px;top:268.1px" width="9" height="5" viewBox="0 0 9 5"><path d="M0 0L9 0L4.5 5Z" fill="#c6ccd6"/></svg><div class="t" style="left:198.80px;top:260.00px;color:#c6ccd6;">0</div><div style="left:239px;top:256px;width:102px;height:22px;background:#172030;border:2px solid #4a5666;box-sizing:border-box;border-radius:3px;"></div><div style="left:320px;top:256px;width:1px;height:22px;background:#4a5666;"></div><svg style="left:325.8px;top:260.2px" width="9" height="5" viewBox="0 0 9 5"><path d="M0 5L4.5 0L9 5Z" fill="#7f8896"/></svg><svg style="left:325.8px;top:268.1px" width="9" height="5" viewBox="0 0 9 5"><path d="M0 0L9 0L4.5 5Z" fill="#7f8896"/></svg><div class="t" style="left:306.80px;top:260.00px;color:#7f8896;">0</div><div style="left:129px;top:282px;width:106px;height:26px;background:#172030;border-radius:4px;border:3px solid #0fa2ad;box-sizing:border-box;"></div><div class="t" style="left:137.70px;top:288.80px;color:#c6ccd6;">Editable</div><div style="left:180px;top:287.5px;width:1px;height:16px;background:#c6ccd6;"></div><div style="left:239px;top:284px;width:102px;height:22px;background:#172030;border:2px solid #4a5666;box-sizing:border-box;border-radius:3px;"></div><div class="t" style="left:245.70px;top:288.80px;color:#7f8896;">Disabled</div><div style="left:348px;top:284px;width:102px;height:22px;background:#172030;border:2px solid #4a5666;box-sizing:border-box;border-radius:3px;"></div><div class="t" style="left:354.40px;top:288.80px;color:#c6ccd6;letter-spacing:0.236px;">Not editable</div><div style="left:456px;top:284px;width:150px;height:22px;background:#172030;border:2px solid #4a5666;box-sizing:border-box;border-radius:3px;"></div><div class="t" style="left:462.60px;top:288.80px;color:#7f8896;letter-spacing:0.150px;">Not editable disabled</div><div style="left:131px;top:313px;width:102px;height:22px;background:#172030;border:1px solid #26344a;box-sizing:border-box;border-radius:3px;"></div><svg style="left:139.5px;top:322.5px" width="42.8" height="5" viewBox="0 0 42.8 5"><circle cx="1.00" cy="2.5" r="1.45" fill="#ffffff"/><circle cx="6.05" cy="2.5" r="1.45" fill="#ffffff"/><circle cx="11.10" cy="2.5" r="1.45" fill="#ffffff"/><circle cx="16.15" cy="2.5" r="1.45" fill="#ffffff"/><circle cx="21.20" cy="2.5" r="1.45" fill="#ffffff"/><circle cx="26.25" cy="2.5" r="1.45" fill="#ffffff"/><circle cx="31.30" cy="2.5" r="1.45" fill="#ffffff"/><circle cx="36.35" cy="2.5" r="1.45" fill="#ffffff"/></svg><div style="left:239px;top:313px;width:102px;height:22px;background:#172030;border:2px solid #4a5666;box-sizing:border-box;border-radius:3px;"></div><svg style="left:247.5px;top:322.5px" width="42.8" height="5" viewBox="0 0 42.8 5"><circle cx="1.00" cy="2.5" r="1.3" fill="#9aa2ae"/><circle cx="6.05" cy="2.5" r="1.3" fill="#9aa2ae"/><circle cx="11.10" cy="2.5" r="1.3" fill="#9aa2ae"/><circle cx="16.15" cy="2.5" r="1.3" fill="#9aa2ae"/><circle cx="21.20" cy="2.5" r="1.3" fill="#9aa2ae"/><circle cx="26.25" cy="2.5" r="1.3" fill="#9aa2ae"/><circle cx="31.30" cy="2.5" r="1.3" fill="#9aa2ae"/><circle cx="36.35" cy="2.5" r="1.3" fill="#9aa2ae"/></svg><div style="left:348px;top:313px;width:102px;height:22px;background:#172030;border:2px solid #4a5666;box-sizing:border-box;border-radius:3px;"></div><svg style="left:356.5px;top:322.5px" width="63.199999999999996" height="5" viewBox="0 0 63.199999999999996 5"><circle cx="1.00" cy="2.5" r="1.45" fill="#ffffff"/><circle cx="6.05" cy="2.5" r="1.45" fill="#ffffff"/><circle cx="11.10" cy="2.5" r="1.45" fill="#ffffff"/><circle cx="16.15" cy="2.5" r="1.45" fill="#ffffff"/><circle cx="21.20" cy="2.5" r="1.45" fill="#ffffff"/><circle cx="26.25" cy="2.5" r="1.45" fill="#ffffff"/><circle cx="31.30" cy="2.5" r="1.45" fill="#ffffff"/><circle cx="36.35" cy="2.5" r="1.45" fill="#ffffff"/><circle cx="41.40" cy="2.5" r="1.45" fill="#ffffff"/><circle cx="46.45" cy="2.5" r="1.45" fill="#ffffff"/><circle cx="51.50" cy="2.5" r="1.45" fill="#ffffff"/><circle cx="56.55" cy="2.5" r="1.45" fill="#ffffff"/></svg><div style="left:456px;top:313px;width:150px;height:22px;background:#172030;border:2px solid #4a5666;box-sizing:border-box;border-radius:3px;"></div><svg style="left:464.6px;top:322.5px" width="109.1" height="5" viewBox="0 0 109.1 5"><circle cx="1.00" cy="2.5" r="1.3" fill="#9aa2ae"/><circle cx="6.05" cy="2.5" r="1.3" fill="#9aa2ae"/><circle cx="11.10" cy="2.5" r="1.3" fill="#9aa2ae"/><circle cx="16.15" cy="2.5" r="1.3" fill="#9aa2ae"/><circle cx="21.20" cy="2.5" r="1.3" fill="#9aa2ae"/><circle cx="26.25" cy="2.5" r="1.3" fill="#9aa2ae"/><circle cx="31.30" cy="2.5" r="1.3" fill="#9aa2ae"/><circle cx="36.35" cy="2.5" r="1.3" fill="#9aa2ae"/><circle cx="41.40" cy="2.5" r="1.3" fill="#9aa2ae"/><circle cx="46.45" cy="2.5" r="1.3" fill="#9aa2ae"/><circle cx="51.50" cy="2.5" r="1.3" fill="#9aa2ae"/><circle cx="56.55" cy="2.5" r="1.3" fill="#9aa2ae"/><circle cx="61.60" cy="2.5" r="1.3" fill="#9aa2ae"/><circle cx="66.65" cy="2.5" r="1.3" fill="#9aa2ae"/><circle cx="71.70" cy="2.5" r="1.3" fill="#9aa2ae"/><circle cx="76.75" cy="2.5" r="1.3" fill="#9aa2ae"/><circle cx="81.80" cy="2.5" r="1.3" fill="#9aa2ae"/><circle cx="86.85" cy="2.5" r="1.3" fill="#9aa2ae"/><circle cx="91.90" cy="2.5" r="1.3" fill="#9aa2ae"/><circle cx="96.95" cy="2.5" r="1.3" fill="#9aa2ae"/><circle cx="102.00" cy="2.5" r="1.3" fill="#9aa2ae"/></svg><div class="t" style="left:634.00px;top:84.00px;color:#c6ccd6;letter-spacing:-0.300px;">Themes:</div><svg style="left:704px;top:83px" width="15" height="15" viewBox="0 0 15 15"><path d="M7.5 1.5V8.5" stroke="#e0e6ee" stroke-width="1.4"/><path d="M3.9 6.4H11.1L7.5 9.8Z" fill="#e0e6ee"/><path d="M1.4 12.5H13.6" stroke="#e0e6ee" stroke-width="1.4"/></svg><svg style="left:730px;top:83px" width="15" height="15" viewBox="0 0 15 15"><path fill="#ffffff" transform="scale(0.9375)" d="M8 0C3.58 0 0 3.58 0 8c0 3.54 2.29 6.53 5.47 7.59.4.07.55-.17.55-.38 0-.19-.01-.82-.01-1.49-2.01.37-2.53-.49-2.69-.94-.09-.23-.48-.94-.82-1.13-.28-.15-.68-.52-.01-.53.63-.01 1.08.58 1.23.82.72 1.21 1.87.87 2.33.66.07-.52.28-.87.51-1.07-1.78-.2-3.64-.89-3.64-3.95 0-.87.31-1.59.82-2.15-.08-.2-.36-1.02.08-2.12 0 0 .67-.21 2.2.82.64-.18 1.32-.27 2-.27.68 0 1.36.09 2 .27 1.53-1.04 2.2-.82 2.2-.82.44 1.1.16 1.92.08 2.12.51.56.82 1.27.82 2.15 0 3.07-1.87 3.75-3.65 3.95.29.25.54.73.54 1.48 0 1.07-.01 1.93-.01 2.2 0 .21.15.46.55.38A8.013 8.013 0 0016 8c0-4.42-3.58-8-8-8z"/></svg><div style="left:759.5px;top:79.5px;width:59px;height:22px;background:#1d2a40;border:1px solid #26344a;box-sizing:border-box;border-radius:3px;"></div><div class="t" style="left:766.70px;top:84.00px;color:#c6ccd6;">all</div><svg style="left:803.2px;top:87.7px" width="9" height="5" viewBox="0 0 9 5"><path d="M0 0L9 0L4.5 5Z" fill="#c6ccd6"/></svg><div style="left:633px;top:107px;width:185px;height:259px;background:#172030;border:1px solid #26344a;box-sizing:border-box;border-radius:2px;"></div><div style="left:634px;top:108px;width:183px;height:257px;overflow:hidden"><div class="t" style="left:5.70px;top:-12.00px;color:#c6ccd6;">DemoLaf</div><div style="left:5px;top:11px;width:38.200000000000045px;height:2px;background:#6a7484"></div><div style="left:130.70000000000005px;top:11px;width:38.299999999999955px;height:2px;background:#6a7484"></div><div class="t" style="left:46.70px;top:5.00px;color:#7f8896;">IntelliJ Themes</div><div class="t" style="left:6.70px;top:22.00px;color:#c6ccd6;letter-spacing:-0.750px;">Arc</div><div class="t" style="left:6.70px;top:40.00px;color:#c6ccd6;">Arc - Orange</div><div class="t" style="left:6.70px;top:58.00px;color:#c6ccd6;letter-spacing:-0.329px;">Arc Dark</div><div class="t" style="left:6.70px;top:76.00px;color:#c6ccd6;">Arc Dark - Orange</div><div style="left:0px;top:91px;width:173.5px;height:18px;background:#1f2a3e"></div><div class="t" style="left:6.70px;top:94.00px;color:#c6ccd6;">Carbon</div><div class="t" style="left:6.70px;top:112.00px;color:#c6ccd6;">Cobalt 2</div><div class="t" style="left:6.70px;top:130.00px;color:#c6ccd6;letter-spacing:0.111px;">Cyan light</div><div class="t" style="left:5.70px;top:148.00px;color:#c6ccd6;letter-spacing:-0.138px;">Dark Flat</div><div class="t" style="left:5.70px;top:166.00px;color:#c6ccd6;letter-spacing:0.140px;">Dark purple</div><div class="t" style="left:5.70px;top:184.00px;color:#c6ccd6;letter-spacing:-0.183px;">Dracula</div><div class="t" style="left:6.70px;top:202.00px;color:#c6ccd6;letter-spacing:-0.190px;">Gradianto Dark Fuchsia</div><div class="t" style="left:6.70px;top:220.00px;color:#c6ccd6;letter-spacing:-0.079px;">Gradianto Deep Ocean</div><div class="t" style="left:6.70px;top:238.00px;color:#c6ccd6;letter-spacing:0.150px;">Gradianto Midnight Blue</div><div class="t" style="left:6.70px;top:256.00px;color:#c6ccd6;">Gradianto Nature Green</div><div style="left:173.5px;top:0px;width:9.5px;height:257px;background:#182232"></div><div style="left:173.5px;top:25.19999999999999px;width:9.5px;height:51.5px;background:#2a3a58"></div></div><div style="left:11px;top:376px;width:808px;height:1px;background:#172030;"></div><div style="left:11px;top:377px;width:808px;height:2px;background:#22304a;"></div><div style="left:11px;top:387px;width:121px;height:22px;background:#1d2a40;border:1px solid #26344a;box-sizing:border-box;border-radius:3px;"></div><div class="t" style="left:18.60px;top:391.40px;color:#c6ccd6;letter-spacing:-0.120px;">Carbon</div><svg style="left:117px;top:395.1px" width="9" height="5" viewBox="0 0 9 5"><path d="M0 0L9 0L4.5 5Z" fill="#c6ccd6"/></svg><div style="left:142.4px;top:390px;width:13.5px;height:13.5px;background:#1e2838;border:1px solid #5a6474;box-sizing:border-box;border-radius:2.5px;"></div><div class="t" style="left:159.00px;top:391.40px;color:#c6ccd6;letter-spacing:0.583px;">right-to-left</div><div style="left:235.6px;top:390px;width:13.5px;height:13.5px;background:#172030;border:1px solid #8a94a0;box-sizing:border-box;border-radius:2.5px;"></div><svg style="left:235.6px;top:390px" width="14" height="14" viewBox="0 0 14 14"><path d="M3.2 7.2L5.8 10L10.8 3.4" fill="none" stroke="#ffffff" stroke-width="1.6"/></svg><div class="t" style="left:253.60px;top:391.40px;color:#c6ccd6;">enabled</div><div class="t" style="left:386.60px;top:391.40px;color:#c6ccd6;letter-spacing:-0.262px;">(Java 1.8.0_202;  user scale factor 2.0; Segoe UI 24)</div><div style="left:743.8px;top:386.7px;width:74.5px;height:22px;background:#0c6a78;border-radius:3px;border:1px solid #0c6a78;box-sizing:border-box;"></div><div class="t" style="left:766.00px;top:391.40px;color:#ffffff;letter-spacing:-0.500px;font-weight:bold;">Close</div><div style="left:1px;top:1px;width:828px;height:418px;border:1px solid #172030;box-sizing:border-box;"></div><div style="left:0px;top:0px;width:830px;height:420px;border:1px solid #0a1428;box-sizing:border-box;"></div></div><div class="win" style="left:0px;top:860px;background:#eee8d5"><div style="left:0px;top:0px;width:830px;height:30px;background:#eee8d5;"></div><div style="left:0px;top:30px;width:830px;height:2px;background:#d2cfc2;"></div><svg style="left:8px;top:7px" width="17" height="17" viewBox="0 0 17 17"><rect x="0.5" y="0.5" width="16" height="16" rx="1" fill="#d95a00"/><path d="M4.3 3.4h5v1.6h-3.3v2.3h2.8v1.5h-2.8v3.9h-1.7z" fill="#fff"/><path d="M9.6 6.6h1.6v5.2h2.7v1.5h-4.3z" fill="#fff"/></svg><div class="t" style="left:40.00px;top:9.00px;color:#405058;letter-spacing:-0.167px;">File</div><div class="t" style="left:74.20px;top:9.00px;color:#405058;letter-spacing:-0.333px;">Edit</div><div class="t" style="left:111.00px;top:9.00px;color:#405058;letter-spacing:-0.167px;">View</div><div class="t" style="left:152.00px;top:9.00px;color:#405058;">Font</div><div class="t" style="left:192.60px;top:9.00px;color:#405058;">Options</div><div class="t" style="left:249.60px;top:9.00px;color:#405058;letter-spacing:0.433px;">Help</div><div class="t" style="left:466.00px;top:9.00px;color:#4a5459;letter-spacing:-0.091px;">FlatLaf Demo</div><svg style="left:712px;top:8px" width="16" height="16" viewBox="0 0 16 16"><path d="M2 7.5h10.5" stroke="#6a6a66" stroke-width="1"/></svg><svg style="left:757px;top:9px" width="13" height="13" viewBox="0 0 13 13"><rect x="2.1" y="1.9" width="9.2" height="9.3" rx="1.4" fill="none" stroke="#7a7a74" stroke-width="1.35"/></svg><svg style="left:801px;top:9px" width="14" height="14" viewBox="0 0 14 14"><path d="M1 1.2L12 12.2M12 1.2L1 12.2" stroke="#3c3c3c" stroke-width="1.05"/></svg><svg style="left:7px;top:41px" width="3" height="16" viewBox="0 0 3 16"><circle cx="1.5" cy="1.5" r="0.75" fill="#a0a090"/><circle cx="1.5" cy="5.5" r="0.75" fill="#a0a090"/><circle cx="1.5" cy="9.5" r="0.75" fill="#a0a090"/><circle cx="1.5" cy="13.5" r="0.75" fill="#a0a090"/></svg><svg style="left:16px;top:42px" width="16" height="13" viewBox="0 0 16 13"><path d="M2 6.4h12.5M6.5 1.8L1.9 6.4L6.5 11" fill="none" stroke="#4f5f66" stroke-width="1.5"/></svg><svg style="left:42.5px;top:42px" width="16" height="13" viewBox="0 0 16 13"><path d="M1.5 6.4h12.5M9.5 1.8L14.1 6.4L9.5 11" fill="none" stroke="#4f5f66" stroke-width="1.5"/></svg><div style="left:66.5px;top:39px;width:1px;height:20px;background:#d6d0be;"></div><div style="left:151.5px;top:39px;width:1px;height:20px;background:#d6d0be;"></div><div style="left:184.5px;top:39px;width:1px;height:20px;background:#d6d0be;"></div><svg style="left:76px;top:41px" width="15" height="15" viewBox="0 0 15 15"><circle cx="3.6" cy="3.2" r="2.2" fill="none" stroke="#4f5f66" stroke-width="1.3"/><circle cx="3.6" cy="11.7" r="2.2" fill="none" stroke="#4f5f66" stroke-width="1.3"/><path d="M5.2 4.8L13.8 13.4M5.2 10.1L7.4 7.9M8.9 6.4L13.8 1.6" fill="none" stroke="#4f5f66" stroke-width="1.3"/></svg><svg style="left:102px;top:40px" width="16" height="16" viewBox="0 0 16 16"><path d="M2.6 9.5V2.6h8.5" fill="none" stroke="#4f5f66" stroke-width="1.3"/><rect x="5.6" y="5.6" width="7.3" height="8.4" fill="#a8aca8" stroke="#4f5f66" stroke-width="1.3"/><path d="M5 13.3h8.6" stroke="#4f5f66" stroke-width="1.4"/></svg><svg style="left:129px;top:40px" width="13" height="16" viewBox="0 0 13 16"><rect x="1.9" y="2.8" width="9" height="11.3" fill="#fdf6e3" stroke="#4f5f66" stroke-width="1.3"/><path d="M4 2.2h5v1.6h-5z M5.5 1.3h2v1h-2z" fill="#4f5f66"/></svg><svg style="left:161px;top:41px" width="15" height="15" viewBox="0 0 15 15"><path d="M3.2 5.2A5 5 0 0 1 12.2 5.6" fill="none" stroke="#4f5f66" stroke-width="1.6"/><path d="M11.9 9.4A5 5 0 0 1 2.9 9.2" fill="none" stroke="#4f5f66" stroke-width="1.6"/><path d="M1.6 1.6L1.6 6.4L6.2 6.2Z" fill="#4f5f66"/><path d="M13.6 13.4L13.6 8.4L9 8.6Z" fill="#4f5f66"/></svg><div style="left:190.5px;top:37.5px;width:22px;height:22px;background:#f5d68a;border-radius:2.5px;"></div><svg style="left:194px;top:42px" width="15" height="13" viewBox="0 0 15 13"><path d="M0.6 6.3C2.6 2.5 5 1.4 7.4 1.4S12.2 2.5 14.2 6.3C12.2 10.1 9.8 11.3 7.4 11.3S2.6 10.1 0.6 6.3Z" fill="#4f5f66"/><circle cx="7.4" cy="6.3" r="3.3" fill="#f5d68a"/><circle cx="7.4" cy="6.3" r="1.9" fill="#4f5f66"/></svg><div class="t" style="left:22.60px;top:86.40px;color:#3d4f58;letter-spacing:-0.127px;">Basic Components</div><div class="t" style="left:145.40px;top:86.40px;color:#3d4f58;letter-spacing:0.121px;">More Components</div><div class="t" style="left:269.60px;top:86.40px;color:#3d4f58;letter-spacing:0.021px;">Data Components</div><div class="t" style="left:391.00px;top:86.40px;color:#3d4f58;letter-spacing:-0.367px;">Tabs</div><div class="t" style="left:439.60px;top:86.40px;color:#3d4f58;">Option Pane</div><div class="t" style="left:529.40px;top:86.40px;color:#3d4f58;letter-spacing:-0.600px;">Extras</div><div style="left:12px;top:108px;width:611px;height:2px;background:#cdcabc;"></div><div style="left:12px;top:107px;width:122px;height:1px;background:#2f74c0;opacity:0.45;"></div><div style="left:12px;top:108px;width:122px;height:2px;background:#2f74c0;"></div><div class="t" style="left:23.00px;top:122.00px;color:#3d4f58;letter-spacing:-0.567px;">JLabel:</div><div class="t" style="left:23.00px;top:148.20px;color:#3d4f58;letter-spacing:-0.057px;">JButton:</div><div class="t" style="left:23.00px;top:176.00px;color:#3d4f58;letter-spacing:-0.625px;">JCheckBox</div><div class="t" style="left:23.00px;top:203.00px;color:#3d4f58;letter-spacing:-0.117px;">JRadioButton:</div><div class="t" style="left:23.00px;top:231.00px;color:#3d4f58;letter-spacing:-0.333px;">JComboBox:</div><div class="t" style="left:23.00px;top:259.80px;color:#3d4f58;letter-spacing:-0.300px;">JSpinner:</div><div class="t" style="left:23.00px;top:288.80px;color:#3d4f58;letter-spacing:-0.140px;">JTextField:</div><div class="t" style="left:23.00px;top:317.80px;color:#3d4f58;letter-spacing:-0.429px;">JPasswordField:</div><div class="t" style="left:130.40px;top:122.00px;color:#3d4f58;">Enabled</div><div class="t" style="left:239.00px;top:122.00px;color:#a4a8a4;">Disabled</div><div style="left:131px;top:143px;width:72px;height:22px;background:#fdf6e3;border:1px solid #c3c1b6;box-sizing:border-box;border-radius:3px;"></div><div class="t" style="left:145.60px;top:148.20px;color:#3d4f58;">Enabled</div><div style="left:239px;top:143px;width:77px;height:22px;background:#eee8d5;border:1px solid #d2cfc2;box-sizing:border-box;border-radius:3px;"></div><div class="t" style="left:253.60px;top:148.20px;color:#a4a8a4;">Disabled</div><div style="left:348px;top:143px;width:72px;height:22px;background:#fdf6e3;border:1px solid #c3c1b6;box-sizing:border-box;"></div><div class="t" style="left:365.00px;top:148.20px;color:#3d4f58;">Square</div><div style="left:456px;top:143px;width:72px;height:22px;background:#fdf6e3;border:1px solid #c3c1b6;box-sizing:border-box;border-radius:11px;"></div><div class="t" style="left:474.20px;top:148.20px;color:#3d4f58;">Round</div><div style="left:536px;top:144px;width:21px;height:21px;background:#fdf6e3;border:1px solid #c3c1b6;box-sizing:border-box;border-radius:11px;"></div><svg style="left:536px;top:144px" width="21" height="21" viewBox="0 0 21 21"><path d="M7.3 8.4C7.3 6.5 8.7 5.5 10.6 5.5C12.5 5.5 13.9 6.6 13.9 8.3C13.9 9.9 12.7 10.6 11.7 11.3C10.9 11.9 10.6 12.4 10.6 13.6" fill="none" stroke="#2d8ee0" stroke-width="1.55"/><circle cx="10.6" cy="15.8" r="1.05" fill="#2d8ee0"/></svg><div style="left:565px;top:144px;width:21px;height:21px;background:#eee8d5;border:1px solid #d2cfc2;box-sizing:border-box;border-radius:11px;"></div><svg style="left:565px;top:144px" width="21" height="21" viewBox="0 0 21 21"><path d="M7.3 8.4C7.3 6.5 8.7 5.5 10.6 5.5C12.5 5.5 13.9 6.6 13.9 8.3C13.9 9.9 12.7 10.6 11.7 11.3C10.9 11.9 10.6 12.4 10.6 13.6" fill="none" stroke="#a4a8a4" stroke-width="1.55"/><circle cx="10.6" cy="15.8" r="1.05" fill="#a4a8a4"/></svg><div style="left:134.2px;top:175px;width:13.5px;height:13.5px;background:#ffffff;border:1px solid #9a9a92;box-sizing:border-box;border-radius:2.5px;"></div><div class="t" style="left:151.60px;top:176.00px;color:#3d4f58;">Enabled</div><div style="left:242.6px;top:175px;width:13.5px;height:13.5px;background:#eee8d5;border:1px solid #d0cdc0;box-sizing:border-box;border-radius:2.5px;"></div><div class="t" style="left:260.00px;top:176.00px;color:#a4a8a4;">Disabled</div><div style="left:351px;top:175px;width:13.5px;height:13.5px;background:#3a7ecb;border:1px solid #3a7ecb;box-sizing:border-box;border-radius:2.5px;"></div><svg style="left:351px;top:175px" width="14" height="14" viewBox="0 0 14 14"><path d="M3.2 7.2L5.8 10L10.8 3.4" fill="none" stroke="#ffffff" stroke-width="1.6"/></svg><div class="t" style="left:368.40px;top:176.00px;color:#3d4f58;">Selected</div><div style="left:459.6px;top:175px;width:13.5px;height:13.5px;background:#eee8d5;border:1px solid #d0cdc0;box-sizing:border-box;border-radius:2.5px;"></div><svg style="left:459.6px;top:175px" width="14" height="14" viewBox="0 0 14 14"><path d="M3.2 7.2L5.8 10L10.8 3.4" fill="none" stroke="#c0c0b8" stroke-width="1.6"/></svg><div class="t" style="left:477.00px;top:176.00px;color:#a4a8a4;">Selected disabled</div><div style="left:133.2px;top:202px;width:14.5px;height:14.5px;background:#ffffff;border:1px solid #9a9a92;box-sizing:border-box;border-radius:8px;"></div><div class="t" style="left:151.60px;top:203.00px;color:#3d4f58;">Enabled</div><div style="left:241.6px;top:202px;width:14.5px;height:14.5px;background:#eee8d5;border:1px solid #d0cdc0;box-sizing:border-box;border-radius:8px;"></div><div class="t" style="left:260.00px;top:203.00px;color:#a4a8a4;">Disabled</div><div style="left:350.2px;top:202px;width:14.5px;height:14.5px;background:#3a7ecb;border:1px solid #3a7ecb;box-sizing:border-box;border-radius:8px;"></div><div style="left:355.2px;top:207px;width:4.5px;height:4.5px;background:#ffffff;border-radius:3px;"></div><div class="t" style="left:368.40px;top:203.00px;color:#3d4f58;">Selected</div><div style="left:458.6px;top:202px;width:14.5px;height:14.5px;background:#eee8d5;border:1px solid #d0cdc0;box-sizing:border-box;border-radius:8px;"></div><div style="left:463.6px;top:207px;width:4.5px;height:4.5px;background:#c0c0b8;border-radius:3px;"></div><div class="t" style="left:477.00px;top:203.00px;color:#a4a8a4;">Selected disabled</div><div style="left:131px;top:226px;width:102px;height:22px;background:#fdf6e3;border:1px solid #c3c1b6;box-sizing:border-box;border-radius:3px;"></div><div style="left:211px;top:226px;width:1px;height:22px;background:#c3c1b6;"></div><svg style="left:217.4px;top:235.1px" width="9" height="5" viewBox="0 0 9 5"><path d="M0 0L9 0L4.5 5Z" fill="#3d4f58"/></svg><div class="t" style="left:137.70px;top:230.80px;color:#3d4f58;">Editable</div><div style="left:239px;top:226px;width:102px;height:22px;background:#eee8d5;border:1px solid #d2cfc2;box-sizing:border-box;border-radius:3px;"></div><div style="left:320px;top:226px;width:1px;height:22px;background:#d2cfc2;"></div><svg style="left:325.8px;top:235.1px" width="9" height="5" viewBox="0 0 9 5"><path d="M0 0L9 0L4.5 5Z" fill="#a8aaa4"/></svg><div class="t" style="left:245.70px;top:230.80px;color:#a4a8a4;">Disabled</div><div style="left:348px;top:226px;width:102px;height:22px;background:#fdf6e3;border:1px solid #c3c1b6;box-sizing:border-box;border-radius:3px;"></div><svg style="left:434.2px;top:235.1px" width="9" height="5" viewBox="0 0 9 5"><path d="M0 0L9 0L4.5 5Z" fill="#3d4f58"/></svg><div class="t" style="left:354.40px;top:230.80px;color:#3d4f58;letter-spacing:0.236px;">Not editable</div><div style="left:456px;top:226px;width:150px;height:22px;background:#eee8d5;border:1px solid #d2cfc2;box-sizing:border-box;border-radius:3px;"></div><svg style="left:591px;top:235.1px" width="9" height="5" viewBox="0 0 9 5"><path d="M0 0L9 0L4.5 5Z" fill="#a8aaa4"/></svg><div class="t" style="left:462.60px;top:230.80px;color:#a4a8a4;letter-spacing:0.150px;">Not editable disabled</div><div style="left:131px;top:256px;width:102px;height:22px;background:#fdf6e3;border:1px solid #c3c1b6;box-sizing:border-box;border-radius:3px;"></div><div style="left:211px;top:256px;width:1px;height:22px;background:#c3c1b6;"></div><svg style="left:217.4px;top:260.2px" width="9" height="5" viewBox="0 0 9 5"><path d="M0 5L4.5 0L9 5Z" fill="#3d4f58"/></svg><svg style="left:217.4px;top:268.1px" width="9" height="5" viewBox="0 0 9 5"><path d="M0 0L9 0L4.5 5Z" fill="#3d4f58"/></svg><div class="t" style="left:198.80px;top:260.00px;color:#3d4f58;">0</div><div style="left:239px;top:256px;width:102px;height:22px;background:#eee8d5;border:1px solid #d2cfc2;box-sizing:border-box;border-radius:3px;"></div><div style="left:320px;top:256px;width:1px;height:22px;background:#d2cfc2;"></div><svg style="left:325.8px;top:260.2px" width="9" height="5" viewBox="0 0 9 5"><path d="M0 5L4.5 0L9 5Z" fill="#a8aaa4"/></svg><svg style="left:325.8px;top:268.1px" width="9" height="5" viewBox="0 0 9 5"><path d="M0 0L9 0L4.5 5Z" fill="#a8aaa4"/></svg><div class="t" style="left:306.80px;top:260.00px;color:#a4a8a4;">0</div><div style="left:129px;top:282px;width:106px;height:26px;background:#fdf6e3;border-radius:4px;border:3px solid #88b0da;box-sizing:border-box;"></div><div class="t" style="left:137.70px;top:288.80px;color:#3d4f58;">Editable</div><div style="left:239px;top:284px;width:102px;height:22px;background:#eee8d5;border:1px solid #d2cfc2;box-sizing:border-box;border-radius:3px;"></div><div class="t" style="left:245.70px;top:288.80px;color:#a4a8a4;">Disabled</div><div style="left:348px;top:284px;width:102px;height:22px;background:#eee8d5;border:1px solid #d2cfc2;box-sizing:border-box;border-radius:3px;"></div><div class="t" style="left:354.40px;top:288.80px;color:#3d4f58;letter-spacing:0.236px;">Not editable</div><div style="left:456px;top:284px;width:150px;height:22px;background:#eee8d5;border:1px solid #d2cfc2;box-sizing:border-box;border-radius:3px;"></div><div class="t" style="left:462.60px;top:288.80px;color:#a4a8a4;letter-spacing:0.150px;">Not editable disabled</div><div style="left:131px;top:313px;width:102px;height:22px;background:#fdf6e3;border:1px solid #c3c1b6;box-sizing:border-box;border-radius:3px;"></div><svg style="left:139.5px;top:322.5px" width="42.8" height="5" viewBox="0 0 42.8 5"><circle cx="1.00" cy="2.5" r="1.45" fill="#000000"/><circle cx="6.05" cy="2.5" r="1.45" fill="#000000"/><circle cx="11.10" cy="2.5" r="1.45" fill="#000000"/><circle cx="16.15" cy="2.5" r="1.45" fill="#000000"/><circle cx="21.20" cy="2.5" r="1.45" fill="#000000"/><circle cx="26.25" cy="2.5" r="1.45" fill="#000000"/><circle cx="31.30" cy="2.5" r="1.45" fill="#000000"/><circle cx="36.35" cy="2.5" r="1.45" fill="#000000"/></svg><div style="left:239px;top:313px;width:102px;height:22px;background:#eee8d5;border:1px solid #d2cfc2;box-sizing:border-box;border-radius:3px;"></div><svg style="left:247.5px;top:322.5px" width="42.8" height="5" viewBox="0 0 42.8 5"><circle cx="1.00" cy="2.5" r="1.3" fill="#a4a8a4"/><circle cx="6.05" cy="2.5" r="1.3" fill="#a4a8a4"/><circle cx="11.10" cy="2.5" r="1.3" fill="#a4a8a4"/><circle cx="16.15" cy="2.5" r="1.3" fill="#a4a8a4"/><circle cx="21.20" cy="2.5" r="1.3" fill="#a4a8a4"/><circle cx="26.25" cy="2.5" r="1.3" fill="#a4a8a4"/><circle cx="31.30" cy="2.5" r="1.3" fill="#a4a8a4"/><circle cx="36.35" cy="2.5" r="1.3" fill="#a4a8a4"/></svg><div style="left:348px;top:313px;width:102px;height:22px;background:#eee8d5;border:1px solid #d2cfc2;box-sizing:border-box;border-radius:3px;"></div><svg style="left:356.5px;top:322.5px" width="63.199999999999996" height="5" viewBox="0 0 63.199999999999996 5"><circle cx="1.00" cy="2.5" r="1.45" fill="#000000"/><circle cx="6.05" cy="2.5" r="1.45" fill="#000000"/><circle cx="11.10" cy="2.5" r="1.45" fill="#000000"/><circle cx="16.15" cy="2.5" r="1.45" fill="#000000"/><circle cx="21.20" cy="2.5" r="1.45" fill="#000000"/><circle cx="26.25" cy="2.5" r="1.45" fill="#000000"/><circle cx="31.30" cy="2.5" r="1.45" fill="#000000"/><circle cx="36.35" cy="2.5" r="1.45" fill="#000000"/><circle cx="41.40" cy="2.5" r="1.45" fill="#000000"/><circle cx="46.45" cy="2.5" r="1.45" fill="#000000"/><circle cx="51.50" cy="2.5" r="1.45" fill="#000000"/><circle cx="56.55" cy="2.5" r="1.45" fill="#000000"/></svg><div style="left:456px;top:313px;width:150px;height:22px;background:#eee8d5;border:1px solid #d2cfc2;box-sizing:border-box;border-radius:3px;"></div><svg style="left:464.6px;top:322.5px" width="109.1" height="5" viewBox="0 0 109.1 5"><circle cx="1.00" cy="2.5" r="1.3" fill="#a4a8a4"/><circle cx="6.05" cy="2.5" r="1.3" fill="#a4a8a4"/><circle cx="11.10" cy="2.5" r="1.3" fill="#a4a8a4"/><circle cx="16.15" cy="2.5" r="1.3" fill="#a4a8a4"/><circle cx="21.20" cy="2.5" r="1.3" fill="#a4a8a4"/><circle cx="26.25" cy="2.5" r="1.3" fill="#a4a8a4"/><circle cx="31.30" cy="2.5" r="1.3" fill="#a4a8a4"/><circle cx="36.35" cy="2.5" r="1.3" fill="#a4a8a4"/><circle cx="41.40" cy="2.5" r="1.3" fill="#a4a8a4"/><circle cx="46.45" cy="2.5" r="1.3" fill="#a4a8a4"/><circle cx="51.50" cy="2.5" r="1.3" fill="#a4a8a4"/><circle cx="56.55" cy="2.5" r="1.3" fill="#a4a8a4"/><circle cx="61.60" cy="2.5" r="1.3" fill="#a4a8a4"/><circle cx="66.65" cy="2.5" r="1.3" fill="#a4a8a4"/><circle cx="71.70" cy="2.5" r="1.3" fill="#a4a8a4"/><circle cx="76.75" cy="2.5" r="1.3" fill="#a4a8a4"/><circle cx="81.80" cy="2.5" r="1.3" fill="#a4a8a4"/><circle cx="86.85" cy="2.5" r="1.3" fill="#a4a8a4"/><circle cx="91.90" cy="2.5" r="1.3" fill="#a4a8a4"/><circle cx="96.95" cy="2.5" r="1.3" fill="#a4a8a4"/><circle cx="102.00" cy="2.5" r="1.3" fill="#a4a8a4"/></svg><div class="t" style="left:634.00px;top:84.00px;color:#3d4f58;letter-spacing:-0.300px;">Themes:</div><svg style="left:704px;top:83px" width="15" height="15" viewBox="0 0 15 15"><path d="M7.5 1.5V8.5" stroke="#4f5f66" stroke-width="1.4"/><path d="M3.9 6.4H11.1L7.5 9.8Z" fill="#4f5f66"/><path d="M1.4 12.5H13.6" stroke="#4f5f66" stroke-width="1.4"/></svg><svg style="left:730px;top:83px" width="15" height="15" viewBox="0 0 15 15"><path fill="#000000" transform="scale(0.9375)" d="M8 0C3.58 0 0 3.58 0 8c0 3.54 2.29 6.53 5.47 7.59.4.07.55-.17.55-.38 0-.19-.01-.82-.01-1.49-2.01.37-2.53-.49-2.69-.94-.09-.23-.48-.94-.82-1.13-.28-.15-.68-.52-.01-.53.63-.01 1.08.58 1.23.82.72 1.21 1.87.87 2.33.66.07-.52.28-.87.51-1.07-1.78-.2-3.64-.89-3.64-3.95 0-.87.31-1.59.82-2.15-.08-.2-.36-1.02.08-2.12 0 0 .67-.21 2.2.82.64-.18 1.32-.27 2-.27.68 0 1.36.09 2 .27 1.53-1.04 2.2-.82 2.2-.82.44 1.1.16 1.92.08 2.12.51.56.82 1.27.82 2.15 0 3.07-1.87 3.75-3.65 3.95.29.25.54.73.54 1.48 0 1.07-.01 1.93-.01 2.2 0 .21.15.46.55.38A8.013 8.013 0 0016 8c0-4.42-3.58-8-8-8z"/></svg><div style="left:759.5px;top:79.5px;width:59px;height:22px;background:#fdf6e3;border:1px solid #c3c1b6;box-sizing:border-box;border-radius:3px;"></div><div class="t" style="left:766.70px;top:84.00px;color:#3d4f58;">all</div><svg style="left:803.2px;top:87.7px" width="9" height="5" viewBox="0 0 9 5"><path d="M0 0L9 0L4.5 5Z" fill="#3d4f58"/></svg><div style="left:633px;top:107px;width:185px;height:259px;background:#fdf6e3;border:1px solid #c3c1b6;box-sizing:border-box;border-radius:2px;"></div><div style="left:634px;top:108px;width:183px;height:257px;overflow:hidden"><div class="t" style="left:6.70px;top:-10.00px;color:#3d4f58;letter-spacing:-0.767px;">Gray</div><div class="t" style="left:6.70px;top:8.00px;color:#3d4f58;letter-spacing:-0.125px;">Gruvbox Dark Hard</div><div class="t" style="left:6.70px;top:26.00px;color:#3d4f58;letter-spacing:0.083px;">Gruvbox Dark Medium</div><div class="t" style="left:6.70px;top:44.00px;color:#3d4f58;letter-spacing:-0.119px;">Gruvbox Dark Soft</div><div class="t" style="left:5.70px;top:62.00px;color:#3d4f58;letter-spacing:0.075px;">Hiberbee Dark</div><div class="t" style="left:5.70px;top:80.00px;color:#3d4f58;letter-spacing:0.150px;">High contrast</div><div class="t" style="left:5.70px;top:98.00px;color:#3d4f58;">Light Flat</div><div class="t" style="left:5.70px;top:116.00px;color:#3d4f58;">Material Design Dark</div><div class="t" style="left:5.70px;top:134.00px;color:#3d4f58;letter-spacing:0.417px;">Monocai</div><div class="t" style="left:5.70px;top:152.00px;color:#3d4f58;letter-spacing:0.933px;">Nord</div><div class="t" style="left:6.70px;top:170.00px;color:#3d4f58;">One Dark</div><div class="t" style="left:5.70px;top:188.00px;color:#3d4f58;letter-spacing:-0.115px;">Solarized Dark</div><div style="left:0px;top:203px;width:173.5px;height:18px;background:#d6d4c8"></div><div class="t" style="left:5.70px;top:206.00px;color:#3d4f58;">Solarized Light</div><div class="t" style="left:5.70px;top:224.00px;color:#3d4f58;letter-spacing:-0.175px;">Spacegray</div><div class="t" style="left:6.70px;top:242.00px;color:#3d4f58;">Vuesion</div><div style="left:173.5px;top:0px;width:9.5px;height:257px;background:#f2eee4"></div><div style="left:173.5px;top:83.19999999999999px;width:9.5px;height:51.60000000000002px;background:#d0cec8"></div></div><div style="left:11px;top:376px;width:808px;height:1px;background:#eee8d5;"></div><div style="left:11px;top:377px;width:808px;height:2px;background:#cdcabc;"></div><div style="left:11px;top:387px;width:121px;height:22px;background:#fdf6e3;border:1px solid #c3c1b6;box-sizing:border-box;border-radius:3px;"></div><div class="t" style="left:17.60px;top:391.40px;color:#3d4f58;letter-spacing:0.057px;">Solarized Light</div><svg style="left:117px;top:395.1px" width="9" height="5" viewBox="0 0 9 5"><path d="M0 0L9 0L4.5 5Z" fill="#3d4f58"/></svg><div style="left:142.4px;top:390px;width:13.5px;height:13.5px;background:#ffffff;border:1px solid #9a9a92;box-sizing:border-box;border-radius:2.5px;"></div><div class="t" style="left:159.00px;top:391.40px;color:#3d4f58;letter-spacing:0.583px;">right-to-left</div><div style="left:235.6px;top:390px;width:13.5px;height:13.5px;background:#3a7ecb;border:1px solid #3a7ecb;box-sizing:border-box;border-radius:2.5px;"></div><svg style="left:235.6px;top:390px" width="14" height="14" viewBox="0 0 14 14"><path d="M3.2 7.2L5.8 10L10.8 3.4" fill="none" stroke="#ffffff" stroke-width="1.6"/></svg><div class="t" style="left:253.60px;top:391.40px;color:#3d4f58;">enabled</div><div class="t" style="left:386.60px;top:391.40px;color:#3d4f58;letter-spacing:-0.262px;">(Java 1.8.0_202;  user scale factor 2.0; Segoe UI 24)</div><div style="left:743.8px;top:386.7px;width:74.5px;height:22px;background:#3f7dc2;border-radius:3px;border:1px solid #3f7dc2;box-sizing:border-box;"></div><div class="t" style="left:766.00px;top:391.40px;color:#ffffff;letter-spacing:-0.500px;font-weight:bold;">Close</div><div style="left:1px;top:1px;width:828px;height:418px;border:1px solid #f8f4e6;box-sizing:border-box;"></div><div style="left:0px;top:0px;width:830px;height:420px;border:1px solid #b4a67c;box-sizing:border-box;"></div></div><div class="win" style="left:840px;top:860px;background:#2c2a3b"><div style="left:0px;top:0px;width:830px;height:30px;background:#2c2a3b;"></div><div style="left:0px;top:30px;width:830px;height:2px;background:#1e1c28;"></div><svg style="left:8px;top:7px" width="17" height="17" viewBox="0 0 17 17"><rect x="0.5" y="0.5" width="16" height="16" rx="1" fill="#d95a00"/><path d="M4.3 3.4h5v1.6h-3.3v2.3h2.8v1.5h-2.8v3.9h-1.7z" fill="#fff"/><path d="M9.6 6.6h1.6v5.2h2.7v1.5h-4.3z" fill="#fff"/></svg><div class="t" style="left:40.00px;top:9.00px;color:#d0d0d8;letter-spacing:-0.167px;">File</div><div class="t" style="left:74.20px;top:9.00px;color:#d0d0d8;letter-spacing:-0.333px;">Edit</div><div class="t" style="left:111.00px;top:9.00px;color:#d0d0d8;letter-spacing:-0.167px;">View</div><div class="t" style="left:152.00px;top:9.00px;color:#d0d0d8;">Font</div><div class="t" style="left:192.60px;top:9.00px;color:#d0d0d8;">Options</div><div class="t" style="left:249.60px;top:9.00px;color:#d0d0d8;letter-spacing:0.433px;">Help</div><div class="t" style="left:466.00px;top:9.00px;color:#9496a0;letter-spacing:-0.091px;">FlatLaf Demo</div><svg style="left:712px;top:8px" width="16" height="16" viewBox="0 0 16 16"><path d="M2 7.5h10.5" stroke="#76729a" stroke-width="1"/></svg><svg style="left:757px;top:9px" width="13" height="13" viewBox="0 0 13 13"><rect x="2.1" y="1.9" width="9.2" height="9.3" rx="1.4" fill="none" stroke="#76729a" stroke-width="1.35"/></svg><svg style="left:801px;top:9px" width="14" height="14" viewBox="0 0 14 14"><path d="M1 1.2L12 12.2M12 1.2L1 12.2" stroke="#76729a" stroke-width="1.05"/></svg><svg style="left:7px;top:41px" width="3" height="16" viewBox="0 0 3 16"><circle cx="1.5" cy="1.5" r="0.75" fill="#a0a0aa"/><circle cx="1.5" cy="5.5" r="0.75" fill="#a0a0aa"/><circle cx="1.5" cy="9.5" r="0.75" fill="#a0a0aa"/><circle cx="1.5" cy="13.5" r="0.75" fill="#a0a0aa"/></svg><svg style="left:16px;top:42px" width="16" height="13" viewBox="0 0 16 13"><path d="M2 6.4h12.5M6.5 1.8L1.9 6.4L6.5 11" fill="none" stroke="#c8c8d2" stroke-width="1.5"/></svg><svg style="left:42.5px;top:42px" width="16" height="13" viewBox="0 0 16 13"><path d="M1.5 6.4h12.5M9.5 1.8L14.1 6.4L9.5 11" fill="none" stroke="#c8c8d2" stroke-width="1.5"/></svg><div style="left:66.5px;top:39px;width:1px;height:20px;background:#3a3848;"></div><div style="left:151.5px;top:39px;width:1px;height:20px;background:#3a3848;"></div><div style="left:184.5px;top:39px;width:1px;height:20px;background:#3a3848;"></div><svg style="left:76px;top:41px" width="15" height="15" viewBox="0 0 15 15"><circle cx="3.6" cy="3.2" r="2.2" fill="none" stroke="#c8c8d2" stroke-width="1.3"/><circle cx="3.6" cy="11.7" r="2.2" fill="none" stroke="#c8c8d2" stroke-width="1.3"/><path d="M5.2 4.8L13.8 13.4M5.2 10.1L7.4 7.9M8.9 6.4L13.8 1.6" fill="none" stroke="#c8c8d2" stroke-width="1.3"/></svg><svg style="left:102px;top:40px" width="16" height="16" viewBox="0 0 16 16"><path d="M2.6 9.5V2.6h8.5" fill="none" stroke="#c8c8d2" stroke-width="1.3"/><rect x="5.6" y="5.6" width="7.3" height="8.4" fill="#6a6878" stroke="#c8c8d2" stroke-width="1.3"/><path d="M5 13.3h8.6" stroke="#c8c8d2" stroke-width="1.4"/></svg><svg style="left:129px;top:40px" width="13" height="16" viewBox="0 0 13 16"><rect x="1.9" y="2.8" width="9" height="11.3" fill="#2c2a3b" stroke="#c8c8d2" stroke-width="1.3"/><path d="M4 2.2h5v1.6h-5z M5.5 1.3h2v1h-2z" fill="#c8c8d2"/></svg><svg style="left:161px;top:41px" width="15" height="15" viewBox="0 0 15 15"><path d="M3.2 5.2A5 5 0 0 1 12.2 5.6" fill="none" stroke="#c8c8d2" stroke-width="1.6"/><path d="M11.9 9.4A5 5 0 0 1 2.9 9.2" fill="none" stroke="#c8c8d2" stroke-width="1.6"/><path d="M1.6 1.6L1.6 6.4L6.2 6.2Z" fill="#c8c8d2"/><path d="M13.6 13.4L13.6 8.4L9 8.6Z" fill="#c8c8d2"/></svg><div style="left:190.5px;top:37.5px;width:22px;height:22px;background:#554e76;border-radius:2.5px;"></div><svg style="left:194px;top:42px" width="15" height="13" viewBox="0 0 15 13"><path d="M0.6 6.3C2.6 2.5 5 1.4 7.4 1.4S12.2 2.5 14.2 6.3C12.2 10.1 9.8 11.3 7.4 11.3S2.6 10.1 0.6 6.3Z" fill="#d8d8e0"/><circle cx="7.4" cy="6.3" r="3.3" fill="#554e76"/><circle cx="7.4" cy="6.3" r="1.9" fill="#d8d8e0"/></svg><div class="t" style="left:22.60px;top:86.40px;color:#c8c8d2;letter-spacing:-0.127px;">Basic Components</div><div class="t" style="left:145.40px;top:86.40px;color:#c8c8d2;letter-spacing:0.121px;">More Components</div><div class="t" style="left:269.60px;top:86.40px;color:#c8c8d2;letter-spacing:0.021px;">Data Components</div><div class="t" style="left:391.00px;top:86.40px;color:#c8c8d2;letter-spacing:-0.367px;">Tabs</div><div class="t" style="left:439.60px;top:86.40px;color:#c8c8d2;">Option Pane</div><div class="t" style="left:529.40px;top:86.40px;color:#c8c8d2;letter-spacing:-0.600px;">Extras</div><div style="left:12px;top:108px;width:611px;height:2px;background:#1e1c28;"></div><div style="left:12px;top:107px;width:122px;height:1px;background:#9f44d3;opacity:0.45;"></div><div style="left:12px;top:108px;width:122px;height:2px;background:#9f44d3;"></div><div class="t" style="left:23.00px;top:122.00px;color:#c8c8d2;letter-spacing:-0.567px;">JLabel:</div><div class="t" style="left:23.00px;top:148.20px;color:#c8c8d2;letter-spacing:-0.057px;">JButton:</div><div class="t" style="left:23.00px;top:176.00px;color:#c8c8d2;letter-spacing:-0.625px;">JCheckBox</div><div class="t" style="left:23.00px;top:203.00px;color:#c8c8d2;letter-spacing:-0.117px;">JRadioButton:</div><div class="t" style="left:23.00px;top:231.00px;color:#c8c8d2;letter-spacing:-0.333px;">JComboBox:</div><div class="t" style="left:23.00px;top:259.80px;color:#c8c8d2;letter-spacing:-0.300px;">JSpinner:</div><div class="t" style="left:23.00px;top:288.80px;color:#c8c8d2;letter-spacing:-0.140px;">JTextField:</div><div class="t" style="left:23.00px;top:317.80px;color:#c8c8d2;letter-spacing:-0.429px;">JPasswordField:</div><div class="t" style="left:130.40px;top:122.00px;color:#c8c8d2;">Enabled</div><div class="t" style="left:239.00px;top:122.00px;color:#6e6c80;">Disabled</div><div style="left:131px;top:143px;width:72px;height:22px;background:#463f62;border:1px solid #554d73;box-sizing:border-box;border-radius:3px;"></div><div class="t" style="left:145.60px;top:148.20px;color:#d0d0d8;">Enabled</div><div style="left:239px;top:143px;width:77px;height:22px;background:#2c2a3b;border:1px solid #3e3b52;box-sizing:border-box;border-radius:3px;"></div><div class="t" style="left:253.60px;top:148.20px;color:#6e6c80;">Disabled</div><div style="left:348px;top:143px;width:72px;height:22px;background:#463f62;border:1px solid #554d73;box-sizing:border-box;"></div><div class="t" style="left:365.00px;top:148.20px;color:#d0d0d8;">Square</div><div style="left:456px;top:143px;width:72px;height:22px;background:#463f62;border:1px solid #554d73;box-sizing:border-box;border-radius:11px;"></div><div class="t" style="left:474.20px;top:148.20px;color:#d0d0d8;">Round</div><div style="left:536px;top:144px;width:21px;height:21px;background:#463f62;border:1px solid #554d73;box-sizing:border-box;border-radius:11px;"></div><svg style="left:536px;top:144px" width="21" height="21" viewBox="0 0 21 21"><path d="M7.3 8.4C7.3 6.5 8.7 5.5 10.6 5.5C12.5 5.5 13.9 6.6 13.9 8.3C13.9 9.9 12.7 10.6 11.7 11.3C10.9 11.9 10.6 12.4 10.6 13.6" fill="none" stroke="#e0e0e8" stroke-width="1.55"/><circle cx="10.6" cy="15.8" r="1.05" fill="#e0e0e8"/></svg><div style="left:565px;top:144px;width:21px;height:21px;background:#2c2a3b;border:1px solid #3e3b52;box-sizing:border-box;border-radius:11px;"></div><svg style="left:565px;top:144px" width="21" height="21" viewBox="0 0 21 21"><path d="M7.3 8.4C7.3 6.5 8.7 5.5 10.6 5.5C12.5 5.5 13.9 6.6 13.9 8.3C13.9 9.9 12.7 10.6 11.7 11.3C10.9 11.9 10.6 12.4 10.6 13.6" fill="none" stroke="#6a6878" stroke-width="1.55"/><circle cx="10.6" cy="15.8" r="1.05" fill="#6a6878"/></svg><div style="left:134.2px;top:175px;width:13.5px;height:13.5px;background:#2c2a3b;border:1px solid #5e5c70;box-sizing:border-box;border-radius:2.5px;"></div><div class="t" style="left:151.60px;top:176.00px;color:#c8c8d2;">Enabled</div><div style="left:242.6px;top:175px;width:13.5px;height:13.5px;background:#2c2a3b;border:1px solid #403e52;box-sizing:border-box;border-radius:2.5px;"></div><div class="t" style="left:260.00px;top:176.00px;color:#6e6c80;">Disabled</div><div style="left:351px;top:175px;width:13.5px;height:13.5px;background:#2c2a3b;border:1px solid #7a7890;box-sizing:border-box;border-radius:2.5px;"></div><svg style="left:351px;top:175px" width="14" height="14" viewBox="0 0 14 14"><path d="M3.2 7.2L5.8 10L10.8 3.4" fill="none" stroke="#ffffff" stroke-width="1.6"/></svg><div class="t" style="left:368.40px;top:176.00px;color:#c8c8d2;">Selected</div><div style="left:459.6px;top:175px;width:13.5px;height:13.5px;background:#2c2a3b;border:1px solid #504e62;box-sizing:border-box;border-radius:2.5px;"></div><svg style="left:459.6px;top:175px" width="14" height="14" viewBox="0 0 14 14"><path d="M3.2 7.2L5.8 10L10.8 3.4" fill="none" stroke="#8a8898" stroke-width="1.6"/></svg><div class="t" style="left:477.00px;top:176.00px;color:#6e6c80;">Selected disabled</div><div style="left:133.2px;top:202px;width:14.5px;height:14.5px;background:#2c2a3b;border:1px solid #5e5c70;box-sizing:border-box;border-radius:8px;"></div><div class="t" style="left:151.60px;top:203.00px;color:#c8c8d2;">Enabled</div><div style="left:241.6px;top:202px;width:14.5px;height:14.5px;background:#2c2a3b;border:1px solid #403e52;box-sizing:border-box;border-radius:8px;"></div><div class="t" style="left:260.00px;top:203.00px;color:#6e6c80;">Disabled</div><div style="left:350.2px;top:202px;width:14.5px;height:14.5px;background:#2c2a3b;border:1px solid #7a7890;box-sizing:border-box;border-radius:8px;"></div><div style="left:355.2px;top:207px;width:4.5px;height:4.5px;background:#ffffff;border-radius:3px;"></div><div class="t" style="left:368.40px;top:203.00px;color:#c8c8d2;">Selected</div><div style="left:458.6px;top:202px;width:14.5px;height:14.5px;background:#2c2a3b;border:1px solid #504e62;box-sizing:border-box;border-radius:8px;"></div><div style="left:463.6px;top:207px;width:4.5px;height:4.5px;background:#8a8898;border-radius:3px;"></div><div class="t" style="left:477.00px;top:203.00px;color:#6e6c80;">Selected disabled</div><div style="left:131px;top:226px;width:102px;height:22px;background:#38354d;border:1px solid #4a4762;box-sizing:border-box;border-radius:3px;"></div><div style="left:211px;top:226px;width:1px;height:22px;background:#4a4762;"></div><svg style="left:217.4px;top:235.1px" width="9" height="5" viewBox="0 0 9 5"><path d="M0 0L9 0L4.5 5Z" fill="#c8c8d2"/></svg><div class="t" style="left:137.70px;top:230.80px;color:#c8c8d2;">Editable</div><div style="left:239px;top:226px;width:102px;height:22px;background:#2c2a3b;border:1px solid #3e3b52;box-sizing:border-box;border-radius:3px;"></div><div style="left:320px;top:226px;width:1px;height:22px;background:#3e3b52;"></div><svg style="left:325.8px;top:235.1px" width="9" height="5" viewBox="0 0 9 5"><path d="M0 0L9 0L4.5 5Z" fill="#5a5870"/></svg><div class="t" style="left:245.70px;top:230.80px;color:#6e6c80;">Disabled</div><div style="left:348px;top:226px;width:102px;height:22px;background:#38354d;border:1px solid #4a4762;box-sizing:border-box;border-radius:3px;"></div><svg style="left:434.2px;top:235.1px" width="9" height="5" viewBox="0 0 9 5"><path d="M0 0L9 0L4.5 5Z" fill="#c8c8d2"/></svg><div class="t" style="left:354.40px;top:230.80px;color:#c8c8d2;letter-spacing:0.236px;">Not editable</div><div style="left:456px;top:226px;width:150px;height:22px;background:#2c2a3b;border:1px solid #3e3b52;box-sizing:border-box;border-radius:3px;"></div><svg style="left:591px;top:235.1px" width="9" height="5" viewBox="0 0 9 5"><path d="M0 0L9 0L4.5 5Z" fill="#5a5870"/></svg><div class="t" style="left:462.60px;top:230.80px;color:#6e6c80;letter-spacing:0.150px;">Not editable disabled</div><div style="left:131px;top:256px;width:102px;height:22px;background:#38354d;border:1px solid #4a4762;box-sizing:border-box;border-radius:3px;"></div><div style="left:211px;top:256px;width:1px;height:22px;background:#4a4762;"></div><svg style="left:217.4px;top:260.2px" width="9" height="5" viewBox="0 0 9 5"><path d="M0 5L4.5 0L9 5Z" fill="#c8c8d2"/></svg><svg style="left:217.4px;top:268.1px" width="9" height="5" viewBox="0 0 9 5"><path d="M0 0L9 0L4.5 5Z" fill="#c8c8d2"/></svg><div class="t" style="left:198.80px;top:260.00px;color:#c8c8d2;">0</div><div style="left:239px;top:256px;width:102px;height:22px;background:#2c2a3b;border:1px solid #3e3b52;box-sizing:border-box;border-radius:3px;"></div><div style="left:320px;top:256px;width:1px;height:22px;background:#3e3b52;"></div><svg style="left:325.8px;top:260.2px" width="9" height="5" viewBox="0 0 9 5"><path d="M0 5L4.5 0L9 5Z" fill="#5a5870"/></svg><svg style="left:325.8px;top:268.1px" width="9" height="5" viewBox="0 0 9 5"><path d="M0 0L9 0L4.5 5Z" fill="#5a5870"/></svg><div class="t" style="left:306.80px;top:260.00px;color:#6e6c80;">0</div><div style="left:129px;top:282px;width:106px;height:26px;background:#38354d;border-radius:4px;border:3px solid #7e42a6;box-sizing:border-box;"></div><div class="t" style="left:137.70px;top:288.80px;color:#c8c8d2;">Editable</div><div style="left:180px;top:287.5px;width:1px;height:16px;background:#c8c8d2;"></div><div style="left:239px;top:284px;width:102px;height:22px;background:#2c2a3b;border:1px solid #3e3b52;box-sizing:border-box;border-radius:3px;"></div><div class="t" style="left:245.70px;top:288.80px;color:#6e6c80;">Disabled</div><div style="left:348px;top:284px;width:102px;height:22px;background:#2c2a3b;border:1px solid #3e3b52;box-sizing:border-box;border-radius:3px;"></div><div class="t" style="left:354.40px;top:288.80px;color:#c8c8d2;letter-spacing:0.236px;">Not editable</div><div style="left:456px;top:284px;width:150px;height:22px;background:#2c2a3b;border:1px solid #3e3b52;box-sizing:border-box;border-radius:3px;"></div><div class="t" style="left:462.60px;top:288.80px;color:#6e6c80;letter-spacing:0.150px;">Not editable disabled</div><div style="left:131px;top:313px;width:102px;height:22px;background:#38354d;border:1px solid #4a4762;box-sizing:border-box;border-radius:3px;"></div><svg style="left:139.5px;top:322.5px" width="42.8" height="5" viewBox="0 0 42.8 5"><circle cx="1.00" cy="2.5" r="1.45" fill="#ffffff"/><circle cx="6.05" cy="2.5" r="1.45" fill="#ffffff"/><circle cx="11.10" cy="2.5" r="1.45" fill="#ffffff"/><circle cx="16.15" cy="2.5" r="1.45" fill="#ffffff"/><circle cx="21.20" cy="2.5" r="1.45" fill="#ffffff"/><circle cx="26.25" cy="2.5" r="1.45" fill="#ffffff"/><circle cx="31.30" cy="2.5" r="1.45" fill="#ffffff"/><circle cx="36.35" cy="2.5" r="1.45" fill="#ffffff"/></svg><div style="left:239px;top:313px;width:102px;height:22px;background:#2c2a3b;border:1px solid #3e3b52;box-sizing:border-box;border-radius:3px;"></div><svg style="left:247.5px;top:322.5px" width="42.8" height="5" viewBox="0 0 42.8 5"><circle cx="1.00" cy="2.5" r="1.3" fill="#7a7890"/><circle cx="6.05" cy="2.5" r="1.3" fill="#7a7890"/><circle cx="11.10" cy="2.5" r="1.3" fill="#7a7890"/><circle cx="16.15" cy="2.5" r="1.3" fill="#7a7890"/><circle cx="21.20" cy="2.5" r="1.3" fill="#7a7890"/><circle cx="26.25" cy="2.5" r="1.3" fill="#7a7890"/><circle cx="31.30" cy="2.5" r="1.3" fill="#7a7890"/><circle cx="36.35" cy="2.5" r="1.3" fill="#7a7890"/></svg><div style="left:348px;top:313px;width:102px;height:22px;background:#2c2a3b;border:1px solid #3e3b52;box-sizing:border-box;border-radius:3px;"></div><svg style="left:356.5px;top:322.5px" width="63.199999999999996" height="5" viewBox="0 0 63.199999999999996 5"><circle cx="1.00" cy="2.5" r="1.45" fill="#ffffff"/><circle cx="6.05" cy="2.5" r="1.45" fill="#ffffff"/><circle cx="11.10" cy="2.5" r="1.45" fill="#ffffff"/><circle cx="16.15" cy="2.5" r="1.45" fill="#ffffff"/><circle cx="21.20" cy="2.5" r="1.45" fill="#ffffff"/><circle cx="26.25" cy="2.5" r="1.45" fill="#ffffff"/><circle cx="31.30" cy="2.5" r="1.45" fill="#ffffff"/><circle cx="36.35" cy="2.5" r="1.45" fill="#ffffff"/><circle cx="41.40" cy="2.5" r="1.45" fill="#ffffff"/><circle cx="46.45" cy="2.5" r="1.45" fill="#ffffff"/><circle cx="51.50" cy="2.5" r="1.45" fill="#ffffff"/><circle cx="56.55" cy="2.5" r="1.45" fill="#ffffff"/></svg><div style="left:456px;top:313px;width:150px;height:22px;background:#2c2a3b;border:1px solid #3e3b52;box-sizing:border-box;border-radius:3px;"></div><svg style="left:464.6px;top:322.5px" width="109.1" height="5" viewBox="0 0 109.1 5"><circle cx="1.00" cy="2.5" r="1.3" fill="#7a7890"/><circle cx="6.05" cy="2.5" r="1.3" fill="#7a7890"/><circle cx="11.10" cy="2.5" r="1.3" fill="#7a7890"/><circle cx="16.15" cy="2.5" r="1.3" fill="#7a7890"/><circle cx="21.20" cy="2.5" r="1.3" fill="#7a7890"/><circle cx="26.25" cy="2.5" r="1.3" fill="#7a7890"/><circle cx="31.30" cy="2.5" r="1.3" fill="#7a7890"/><circle cx="36.35" cy="2.5" r="1.3" fill="#7a7890"/><circle cx="41.40" cy="2.5" r="1.3" fill="#7a7890"/><circle cx="46.45" cy="2.5" r="1.3" fill="#7a7890"/><circle cx="51.50" cy="2.5" r="1.3" fill="#7a7890"/><circle cx="56.55" cy="2.5" r="1.3" fill="#7a7890"/><circle cx="61.60" cy="2.5" r="1.3" fill="#7a7890"/><circle cx="66.65" cy="2.5" r="1.3" fill="#7a7890"/><circle cx="71.70" cy="2.5" r="1.3" fill="#7a7890"/><circle cx="76.75" cy="2.5" r="1.3" fill="#7a7890"/><circle cx="81.80" cy="2.5" r="1.3" fill="#7a7890"/><circle cx="86.85" cy="2.5" r="1.3" fill="#7a7890"/><circle cx="91.90" cy="2.5" r="1.3" fill="#7a7890"/><circle cx="96.95" cy="2.5" r="1.3" fill="#7a7890"/><circle cx="102.00" cy="2.5" r="1.3" fill="#7a7890"/></svg><div class="t" style="left:634.00px;top:84.00px;color:#c8c8d2;letter-spacing:-0.300px;">Themes:</div><svg style="left:704px;top:83px" width="15" height="15" viewBox="0 0 15 15"><path d="M7.5 1.5V8.5" stroke="#d8d8e0" stroke-width="1.4"/><path d="M3.9 6.4H11.1L7.5 9.8Z" fill="#d8d8e0"/><path d="M1.4 12.5H13.6" stroke="#d8d8e0" stroke-width="1.4"/></svg><svg style="left:730px;top:83px" width="15" height="15" viewBox="0 0 15 15"><path fill="#ffffff" transform="scale(0.9375)" d="M8 0C3.58 0 0 3.58 0 8c0 3.54 2.29 6.53 5.47 7.59.4.07.55-.17.55-.38 0-.19-.01-.82-.01-1.49-2.01.37-2.53-.49-2.69-.94-.09-.23-.48-.94-.82-1.13-.28-.15-.68-.52-.01-.53.63-.01 1.08.58 1.23.82.72 1.21 1.87.87 2.33.66.07-.52.28-.87.51-1.07-1.78-.2-3.64-.89-3.64-3.95 0-.87.31-1.59.82-2.15-.08-.2-.36-1.02.08-2.12 0 0 .67-.21 2.2.82.64-.18 1.32-.27 2-.27.68 0 1.36.09 2 .27 1.53-1.04 2.2-.82 2.2-.82.44 1.1.16 1.92.08 2.12.51.56.82 1.27.82 2.15 0 3.07-1.87 3.75-3.65 3.95.29.25.54.73.54 1.48 0 1.07-.01 1.93-.01 2.2 0 .21.15.46.55.38A8.013 8.013 0 0016 8c0-4.42-3.58-8-8-8z"/></svg><div style="left:759.5px;top:79.5px;width:59px;height:22px;background:#38354d;border:1px solid #4a4762;box-sizing:border-box;border-radius:3px;"></div><div class="t" style="left:766.70px;top:84.00px;color:#c8c8d2;">all</div><svg style="left:803.2px;top:87.7px" width="9" height="5" viewBox="0 0 9 5"><path d="M0 0L9 0L4.5 5Z" fill="#c8c8d2"/></svg><div style="left:633px;top:107px;width:185px;height:259px;background:#2c2a3b;border:1px solid #4a4762;box-sizing:border-box;border-radius:2px;"></div><div style="left:634px;top:108px;width:183px;height:257px;overflow:hidden"><div class="t" style="left:5.70px;top:-12.00px;color:#c8c8d2;">DemoLaf</div><div style="left:5px;top:11px;width:38.200000000000045px;height:2px;background:#5e5c74"></div><div style="left:130.70000000000005px;top:11px;width:38.299999999999955px;height:2px;background:#5e5c74"></div><div class="t" style="left:46.70px;top:5.00px;color:#6e6c80;">IntelliJ Themes</div><div class="t" style="left:6.70px;top:22.00px;color:#c8c8d2;letter-spacing:-0.750px;">Arc</div><div class="t" style="left:6.70px;top:40.00px;color:#c8c8d2;">Arc - Orange</div><div class="t" style="left:6.70px;top:58.00px;color:#c8c8d2;letter-spacing:-0.329px;">Arc Dark</div><div class="t" style="left:6.70px;top:76.00px;color:#c8c8d2;">Arc Dark - Orange</div><div class="t" style="left:6.70px;top:94.00px;color:#c8c8d2;">Carbon</div><div class="t" style="left:6.70px;top:112.00px;color:#c8c8d2;">Cobalt 2</div><div class="t" style="left:6.70px;top:130.00px;color:#c8c8d2;letter-spacing:0.111px;">Cyan light</div><div class="t" style="left:5.70px;top:148.00px;color:#c8c8d2;letter-spacing:-0.138px;">Dark Flat</div><div style="left:0px;top:163px;width:173.5px;height:18px;background:#3e3855"></div><div class="t" style="left:5.70px;top:166.00px;color:#c8c8d2;letter-spacing:0.140px;">Dark purple</div><div class="t" style="left:5.70px;top:184.00px;color:#c8c8d2;letter-spacing:-0.183px;">Dracula</div><div class="t" style="left:6.70px;top:202.00px;color:#c8c8d2;letter-spacing:-0.190px;">Gradianto Dark Fuchsia</div><div class="t" style="left:6.70px;top:220.00px;color:#c8c8d2;letter-spacing:-0.079px;">Gradianto Deep Ocean</div><div class="t" style="left:6.70px;top:238.00px;color:#c8c8d2;letter-spacing:0.150px;">Gradianto Midnight Blue</div><div class="t" style="left:6.70px;top:256.00px;color:#c8c8d2;">Gradianto Nature Green</div><div style="left:173.5px;top:0px;width:9.5px;height:257px;background:#2e2c3e"></div><div style="left:173.5px;top:25.19999999999999px;width:9.5px;height:51.5px;background:#4a4566"></div></div><div style="left:11px;top:376px;width:808px;height:1px;background:#2c2a3b;"></div><div style="left:11px;top:377px;width:808px;height:2px;background:#1e1c28;"></div><div style="left:11px;top:387px;width:121px;height:22px;background:#38354d;border:1px solid #4a4762;box-sizing:border-box;border-radius:3px;"></div><div class="t" style="left:17.60px;top:391.40px;color:#c8c8d2;letter-spacing:0.140px;">Dark purple</div><svg style="left:117px;top:395.1px" width="9" height="5" viewBox="0 0 9 5"><path d="M0 0L9 0L4.5 5Z" fill="#c8c8d2"/></svg><div style="left:142.4px;top:390px;width:13.5px;height:13.5px;background:#2c2a3b;border:1px solid #5e5c70;box-sizing:border-box;border-radius:2.5px;"></div><div class="t" style="left:159.00px;top:391.40px;color:#c8c8d2;letter-spacing:0.583px;">right-to-left</div><div style="left:235.6px;top:390px;width:13.5px;height:13.5px;background:#2c2a3b;border:1px solid #7a7890;box-sizing:border-box;border-radius:2.5px;"></div><svg style="left:235.6px;top:390px" width="14" height="14" viewBox="0 0 14 14"><path d="M3.2 7.2L5.8 10L10.8 3.4" fill="none" stroke="#ffffff" stroke-width="1.6"/></svg><div class="t" style="left:253.60px;top:391.40px;color:#c8c8d2;">enabled</div><div class="t" style="left:386.60px;top:391.40px;color:#c8c8d2;letter-spacing:-0.262px;">(Java 1.8.0_202;  user scale factor 2.0; Segoe UI 24)</div><div style="left:743.8px;top:386.7px;width:74.5px;height:22px;background:#6b2f94;border-radius:3px;border:1px solid #7a3aa5;box-sizing:border-box;"></div><div class="t" style="left:766.00px;top:391.40px;color:#ffffff;letter-spacing:-0.500px;font-weight:bold;">Close</div><div style="left:1px;top:1px;width:828px;height:418px;border:1px solid #2c2a3b;box-sizing:border-box;"></div><div style="left:0px;top:0px;width:830px;height:420px;border:1px solid #1d1b27;box-sizing:border-box;"></div></div></body></html>
